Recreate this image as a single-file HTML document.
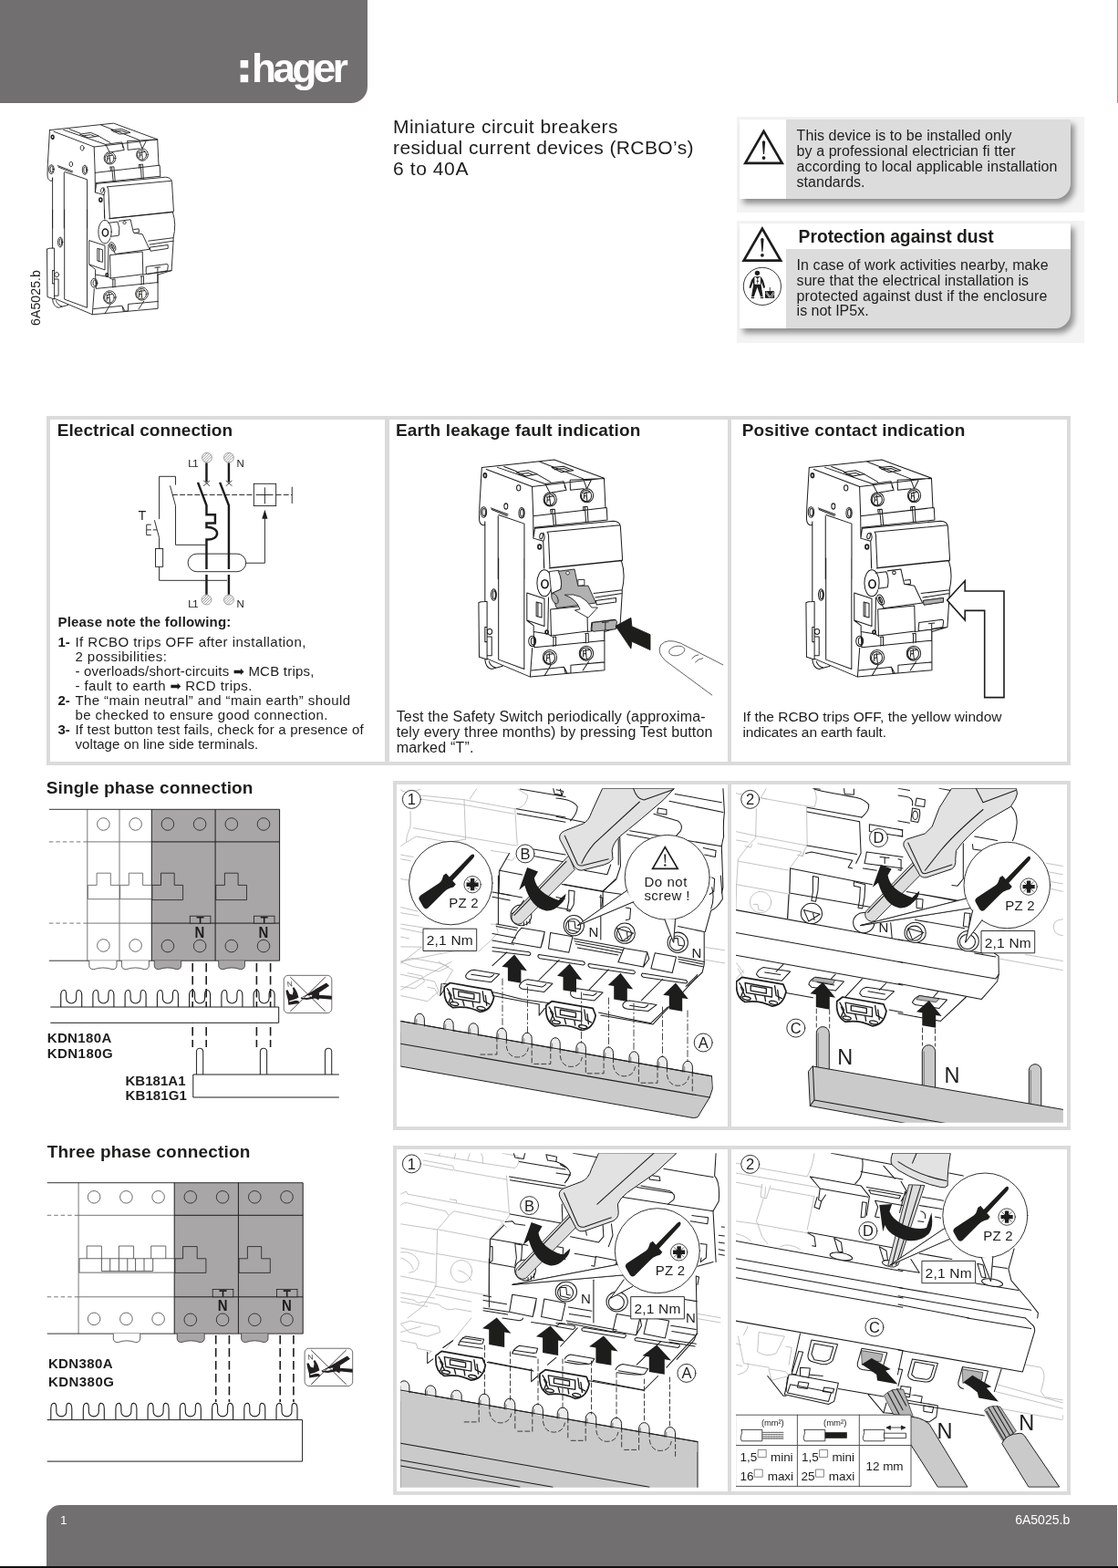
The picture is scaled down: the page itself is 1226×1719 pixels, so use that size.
<!DOCTYPE html>
<html lang="en">
<head>
<meta charset="utf-8">
<title>hager – Miniature circuit breakers residual current devices (RCBO’s)</title>
<style>
html,body{margin:0;padding:0;background:#fff;}
body{width:1226px;height:1719px;overflow:hidden;font-family:"Liberation Sans",sans-serif;color:#1d1d1b;}
#page{will-change:transform;position:relative;width:1226px;height:1719px;overflow:hidden;background:#fff;}
#art{position:absolute;left:0;top:0;}
.t{position:absolute;white-space:pre;}
.abs{position:absolute;}
#hdr{left:0;top:0;width:403px;height:113px;background:#716f70;border-bottom-right-radius:18px;}
#redline{left:1224.7px;top:0;width:1.3px;height:112.5px;background:#cf727c;}
#ftr{left:51.4px;top:1650px;width:1173.2px;height:69px;background:#716f70;border-top-left-radius:15px;}
#ftline{left:0;top:1717px;width:1226px;height:2px;background:#111;}
.warnbg{background:#f3f3f3;}
.card{background:#dcdcdc;border-bottom-right-radius:17px;box-shadow:4px 5px 6px rgba(0,0,0,.42);overflow:hidden;}
.card .wl{position:absolute;left:0;top:0;bottom:0;width:51px;background:#fff;}
.card .wt{position:absolute;left:51px;top:0;right:0;height:28px;background:#fff;}
.frame{border:4px solid #dbdbdb;box-sizing:border-box;}
.vsep{background:#dbdbdb;}
.ar{font-family:"DejaVu Sans",sans-serif;font-size:14.5px;line-height:0;letter-spacing:0;}

</style>
</head>
<body>
<div id="page">
<div id="hdr" class="abs"></div>
<div id="redline" class="abs"></div>
<div class="abs warnbg" style="left:807.5px;top:127.5px;width:381.5px;height:105px"></div>
<div class="abs card" style="left:811px;top:131px;width:363px;height:87px"><div class="wl"></div></div>
<div class="abs warnbg" style="left:807.5px;top:242px;width:381.5px;height:134px"></div>
<div class="abs card" style="left:811px;top:245px;width:363px;height:114.5px"><div class="wl"></div><div class="wt"></div></div>
<div class="abs frame" style="left:51px;top:456px;width:1123px;height:383px"></div>
<div class="abs vsep" style="left:422px;top:456px;width:5px;height:383px"></div>
<div class="abs vsep" style="left:798px;top:456px;width:4px;height:383px"></div>
<div class="abs frame" style="left:431px;top:856px;width:743px;height:383px"></div>
<div class="abs vsep" style="left:798px;top:856px;width:4px;height:383px"></div>
<div class="abs frame" style="left:431px;top:1256px;width:743px;height:383px"></div>
<div class="abs vsep" style="left:798px;top:1256px;width:4px;height:383px"></div>
<div id="ftr" class="abs"></div>
<div id="ftline" class="abs"></div>

<svg id="art" width="1226" height="1719" viewBox="0 0 1226 1719">
<!-- 00_logo.svg -->
<rect x="263.6" y="66" width="8.6" height="8.4" fill="#fff"/><rect x="263.6" y="81.8" width="8.6" height="8.4" fill="#fff"/>

<!-- 10_wiring.svg -->
<g transform="translate(140,490) scale(0.16313)" fill="none" stroke="#1d1d1b" stroke-width="5.6" stroke-linecap="butt">
  <defs>
    <g id="term">
      <circle r="33" fill="#fff" stroke="#555" stroke-width="3.5"/>
      <path d="M-26,14 L14,-26 M-18,24 L24,-18 M-6,30 L30,-6 M-30,0 L0,-30" stroke="#666" stroke-width="4"/>
    </g>
  </defs>
  <use href="#term" x="533" y="72"/><use href="#term" x="680" y="72"/>
  <use href="#term" x="530" y="1027"/><use href="#term" x="680" y="1027"/>
  <g stroke-width="15">
    <path d="M530,108 V236 M680,108 V236"/>
    <path d="M472,238 L530,392 V455 H588 V512 H530 V540 C625,535 625,628 530,622 V822 M530,858 V992" stroke-linejoin="miter"/>
    <path d="M620,238 L680,392 V822 M680,858 V992"/>
  </g>
  <path d="M510,226 L552,262 M552,226 L510,262 M660,226 L702,262 M702,226 L660,262" stroke-width="5"/>
  <path d="M300,322 H848 M997,322 H1105" stroke-dasharray="36 14"/>
  <path d="M1105,268 V380"/>
  <rect x="848" y="247" width="149" height="149"/>
  <path d="M922,272 V382 M862,322 H978"/>
  <rect x="405" y="718" width="390" height="120" rx="60" ry="60"/>
  <path d="M795,780 H922 V470"/>
  <path d="M922,422 L941,482 H903 Z" fill="#1d1d1b" stroke="none"/>
  <path d="M322,255 V198 H212 V485 M180,492 L212,610 V683 M212,805 V897 H668"/>
  <rect x="187" y="683" width="50" height="122"/>
  <path d="M285,260 L322,395 V658 H525"/>
  <path d="M127,522 V592 M127,522 H158 M127,557 H158 M127,592 H158 M170,557 H196"/>
  <g fill="#1d1d1b" stroke="none" font-family="Liberation Sans, sans-serif" font-size="70">
    <text x="406" y="133" textLength="70">L1</text>
    <text x="733" y="133">N</text>
    <text x="406" y="1078" textLength="70">L1</text>
    <text x="733" y="1078">N</text>
    <text x="70" y="488" font-size="88">T</text>
  </g>
</g>

<!-- 20_phase.svg -->
<g id="single" fill="none" stroke="#1d1d1b" stroke-width="0.8"><rect x="166.3" y="887.3" width="140.4" height="165.9" fill="#a8a6a7" stroke="none"/><path d="M95.8,887.3 V1053.2 M131.0,887.3 V1053.2 M95.8,922.9 H166.3 M95.8,1012.1 H166.3" stroke="#777" stroke-width="1"/><path d="M53.8,887.3 H306.6 M53.8,1053.2 H306.6" stroke-width="0.9"/><path d="M53.8,922.9 H95.8 M53.8,1012.1 H95.8" stroke-dasharray="4.5 3" stroke="#555"/><path d="M166.3,887.3 V1053.2 M236.1,887.3 V1053.2 M306.6,887.3 V1053.2 M166.3,922.9 H306.6 M166.3,1012.1 H306.6" stroke-width="1"/><circle cx="113.4" cy="903.5" r="6.8" stroke="#444"/><circle cx="113.4" cy="1036.5" r="6.8" stroke="#444"/><circle cx="148.6" cy="903.5" r="6.8" stroke="#444"/><circle cx="148.6" cy="1036.5" r="6.8" stroke="#444"/><circle cx="183.9" cy="903.5" r="6.8"/><circle cx="183.9" cy="1037.1" r="6.8"/><circle cx="219.1" cy="903.5" r="6.8"/><circle cx="219.1" cy="1037.1" r="6.8"/><circle cx="253.8" cy="903.5" r="6.8"/><circle cx="253.8" cy="1037.1" r="6.8"/><circle cx="289.0" cy="903.5" r="6.8"/><circle cx="289.0" cy="1037.1" r="6.8"/><path d="M96.4,970.4 H106.1 V957.2 H121.3 V970.4 H131.0 V985.7 H96.4 Z M131.6,970.4 H141.3 V957.2 H156.6 V970.4 H166.3 V985.7 H131.6 Z" stroke="#555" fill="#fff"/><path d="M166.8,970.4 H176.5 V957.2 H191.2 V970.4 H200.6 V986.6 H166.8 Z M236.7,970.4 H246.4 V957.2 H261.1 V970.4 H270.5 V986.6 H236.7 Z"/><rect x="208.3" y="1004.2" width="22.6" height="7.9" fill="#a8a6a7"/><path d="M215.6,1005.7 H223.6 M219.6,1005.7 V1012.1" stroke-width="1.6"/><rect x="278.4" y="1004.2" width="22.6" height="7.9" fill="#a8a6a7"/><path d="M285.7,1005.7 H293.7 M289.7,1005.7 V1012.1" stroke-width="1.6"/><path d="M97.8,1053.2 v5 q0,4.5 5,4.5 q10.1,-3.5 20.2,0 q5,0 5,-4.5 v-5" fill="#fff" stroke="#1d1d1b" stroke-width="0.7"/><path d="M133.4,1053.2 v5 q0,4.5 5,4.5 q10.0,-3.5 20.0,0 q5,0 5,-4.5 v-5" fill="#fff" stroke="#1d1d1b" stroke-width="0.7"/><path d="M169.2,1053.2 v5 q0,4.5 5,4.5 q9.7,-3.5 19.4,0 q5,0 5,-4.5 v-5" fill="#a8a6a7" stroke="#1d1d1b" stroke-width="0.7"/><path d="M239.7,1053.2 v5 q0,4.5 5,4.5 q9.4,-3.5 18.8,0 q5,0 5,-4.5 v-5" fill="#a8a6a7" stroke="#1d1d1b" stroke-width="0.7"/></g>
<g id="single2" fill="none" stroke="#1d1d1b" stroke-width="1.1"><path d="M66.7,1104.0 V1091.5 Q66.7,1085.5 70.2,1085.5 Q72.7,1085.5 72.7,1090.5 V1094.5 A5.5,5.5 0 0 0 83.7,1094.5 V1090.5 Q83.7,1085.5 86.2,1085.5 Q89.7,1085.5 89.7,1091.5 V1104.0" fill="#fff" stroke="#1d1d1b" stroke-width="1.1"/><path d="M101.9,1104.0 V1091.5 Q101.9,1085.5 105.4,1085.5 Q107.9,1085.5 107.9,1090.5 V1094.5 A5.5,5.5 0 0 0 118.9,1094.5 V1090.5 Q118.9,1085.5 121.4,1085.5 Q124.9,1085.5 124.9,1091.5 V1104.0" fill="#fff" stroke="#1d1d1b" stroke-width="1.1"/><path d="M137.1,1104.0 V1091.5 Q137.1,1085.5 140.6,1085.5 Q143.1,1085.5 143.1,1090.5 V1094.5 A5.5,5.5 0 0 0 154.1,1094.5 V1090.5 Q154.1,1085.5 156.6,1085.5 Q160.1,1085.5 160.1,1091.5 V1104.0" fill="#fff" stroke="#1d1d1b" stroke-width="1.1"/><path d="M172.4,1104.0 V1091.5 Q172.4,1085.5 175.9,1085.5 Q178.4,1085.5 178.4,1090.5 V1094.5 A5.5,5.5 0 0 0 189.4,1094.5 V1090.5 Q189.4,1085.5 191.9,1085.5 Q195.4,1085.5 195.4,1091.5 V1104.0" fill="#fff" stroke="#1d1d1b" stroke-width="1.1"/><path d="M207.6,1104.0 V1091.5 Q207.6,1085.5 211.1,1085.5 Q213.6,1085.5 213.6,1090.5 V1094.5 A5.5,5.5 0 0 0 224.6,1094.5 V1090.5 Q224.6,1085.5 227.1,1085.5 Q230.6,1085.5 230.6,1091.5 V1104.0" fill="#fff" stroke="#1d1d1b" stroke-width="1.1"/><path d="M242.9,1104.0 V1091.5 Q242.9,1085.5 246.4,1085.5 Q248.9,1085.5 248.9,1090.5 V1094.5 A5.5,5.5 0 0 0 259.9,1094.5 V1090.5 Q259.9,1085.5 262.4,1085.5 Q265.9,1085.5 265.9,1091.5 V1104.0" fill="#fff" stroke="#1d1d1b" stroke-width="1.1"/><path d="M278.1,1104.0 V1091.5 Q278.1,1085.5 281.6,1085.5 Q284.1,1085.5 284.1,1090.5 V1094.5 A5.5,5.5 0 0 0 295.1,1094.5 V1090.5 Q295.1,1085.5 297.6,1085.5 Q301.1,1085.5 301.1,1091.5 V1104.0" fill="#fff" stroke="#1d1d1b" stroke-width="1.1"/><path d="M211.2,1056.1 V1148.1" stroke-width="1.6" stroke-dasharray="9.5 4.5"/><path d="M226.2,1056.1 V1148.1" stroke-width="1.6" stroke-dasharray="9.5 4.5"/><path d="M281.4,1056.1 V1148.1" stroke-width="1.6" stroke-dasharray="9.5 4.5"/><path d="M296.6,1056.1 V1148.1" stroke-width="1.6" stroke-dasharray="9.5 4.5"/><path d="M55.3,1104.0 H305.7 V1121.3 H55.3" fill="#fff" stroke-width="1"/><path d="M215.5,1178.0 V1152.8 a3.6,3.6 0 0 1 7.2,0 V1178.0" fill="#fff" stroke="#333"/><path d="M285.4,1178.0 V1152.8 a3.6,3.6 0 0 1 7.2,0 V1178.0" fill="#fff" stroke="#333"/><path d="M356.5,1178.0 V1152.8 a3.6,3.6 0 0 1 7.2,0 V1178.0" fill="#fff" stroke="#333"/><path d="M371.8,1178.0 H211.8 V1203.0 H371.8" stroke-width="1"/></g>
<g id="three" fill="none" stroke="#1d1d1b" stroke-width="0.8"><rect x="191.2" y="1296.7" width="140.9" height="165.3" fill="#a8a6a7" stroke="none"/><path d="M86.1,1296.7 V1462.1 M86.1,1332.3 H191.2 M86.1,1421.8 H191.2" stroke="#777" stroke-width="1"/><path d="M51.7,1296.7 H332.2 M51.7,1462.1 H332.2" stroke-width="0.9"/><path d="M51.7,1332.3 H86.1 M51.7,1421.8 H86.1" stroke-dasharray="4.5 3" stroke="#555"/><path d="M191.2,1296.7 V1462.1 M261.4,1296.7 V1462.1 M332.2,1296.7 V1462.1 M191.2,1332.3 H332.2 M191.2,1421.8 H332.2" stroke-width="1"/><circle cx="103.1" cy="1312.3" r="6.8" stroke="#444"/><circle cx="103.1" cy="1445.9" r="6.8" stroke="#444"/><circle cx="138.4" cy="1312.3" r="6.8" stroke="#444"/><circle cx="138.4" cy="1445.9" r="6.8" stroke="#444"/><circle cx="173.6" cy="1312.3" r="6.8" stroke="#444"/><circle cx="173.6" cy="1445.9" r="6.8" stroke="#444"/><circle cx="208.8" cy="1312.3" r="6.8"/><circle cx="208.8" cy="1446.8" r="6.8"/><circle cx="244.1" cy="1312.3" r="6.8"/><circle cx="244.1" cy="1446.8" r="6.8"/><circle cx="279.3" cy="1312.3" r="6.8"/><circle cx="279.3" cy="1446.8" r="6.8"/><circle cx="314.5" cy="1312.3" r="6.8"/><circle cx="314.5" cy="1446.8" r="6.8"/><rect x="87.0" y="1379.8" width="104.2" height="15.3" stroke="#444" fill="#fff"/><path d="M95.2,1379.8 V1366.0 H111.4 V1379.8" stroke="#444"/><path d="M130.4,1379.8 V1366.0 H146.6 V1379.8" stroke="#444"/><path d="M165.7,1379.8 V1366.0 H181.8 V1379.8" stroke="#444"/><path d="M111.4,1379.8 V1393.6 H167.7 V1379.8 M120.7,1379.8 V1393.6 M130.4,1379.8 V1393.6 M139.8,1379.8 V1393.6 M148.6,1379.8 V1393.6 M158.0,1379.8 V1393.6" stroke="#333"/><path d="M191.8,1379.8 H200.6 V1366.6 H216.2 V1379.8 H225.9 V1395.4 H191.8 Z M262.0,1379.8 H271.4 V1366.6 H286.7 V1379.8 H296.3 V1395.4 H262.0 Z"/><rect x="233.2" y="1413.6" width="22.6" height="8.2" fill="#a8a6a7"/><path d="M240.5,1415.1 H248.5 M244.5,1415.1 V1421.8" stroke-width="1.6"/><rect x="303.4" y="1413.6" width="22.6" height="8.2" fill="#a8a6a7"/><path d="M310.7,1415.1 H318.7 M314.7,1415.1 V1421.8" stroke-width="1.6"/><path d="M124.3,1462.1 v5 q0,4.5 5,4.5 q9.7,-3.5 19.4,0 q5,0 5,-4.5 v-5" fill="#fff" stroke="#1d1d1b" stroke-width="0.7"/><path d="M194.2,1462.1 v5 q0,4.5 5,4.5 q10.0,-3.5 20.0,0 q5,0 5,-4.5 v-5" fill="#a8a6a7" stroke="#1d1d1b" stroke-width="0.7"/><path d="M264.6,1462.1 v5 q0,4.5 5,4.5 q9.7,-3.5 19.4,0 q5,0 5,-4.5 v-5" fill="#a8a6a7" stroke="#1d1d1b" stroke-width="0.7"/></g>
<g id="three2" fill="none" stroke="#1d1d1b" stroke-width="1.1"><path d="M55.8,1556.6 V1544.4 Q55.8,1538.4 59.3,1538.4 Q61.8,1538.4 61.8,1543.4 V1547.4 A5.5,5.5 0 0 0 72.8,1547.4 V1543.4 Q72.8,1538.4 75.3,1538.4 Q78.8,1538.4 78.8,1544.4 V1556.6" fill="#fff" stroke="#1d1d1b" stroke-width="1.1"/><path d="M91.3,1556.6 V1544.4 Q91.3,1538.4 94.8,1538.4 Q97.3,1538.4 97.3,1543.4 V1547.4 A5.5,5.5 0 0 0 108.3,1547.4 V1543.4 Q108.3,1538.4 110.8,1538.4 Q114.3,1538.4 114.3,1544.4 V1556.6" fill="#fff" stroke="#1d1d1b" stroke-width="1.1"/><path d="M126.9,1556.6 V1544.4 Q126.9,1538.4 130.4,1538.4 Q132.9,1538.4 132.9,1543.4 V1547.4 A5.5,5.5 0 0 0 143.9,1547.4 V1543.4 Q143.9,1538.4 146.4,1538.4 Q149.9,1538.4 149.9,1544.4 V1556.6" fill="#fff" stroke="#1d1d1b" stroke-width="1.1"/><path d="M162.1,1556.6 V1544.4 Q162.1,1538.4 165.6,1538.4 Q168.1,1538.4 168.1,1543.4 V1547.4 A5.5,5.5 0 0 0 179.1,1547.4 V1543.4 Q179.1,1538.4 181.6,1538.4 Q185.1,1538.4 185.1,1544.4 V1556.6" fill="#fff" stroke="#1d1d1b" stroke-width="1.1"/><path d="M197.3,1556.6 V1544.4 Q197.3,1538.4 200.8,1538.4 Q203.3,1538.4 203.3,1543.4 V1547.4 A5.5,5.5 0 0 0 214.3,1547.4 V1543.4 Q214.3,1538.4 216.8,1538.4 Q220.3,1538.4 220.3,1544.4 V1556.6" fill="#fff" stroke="#1d1d1b" stroke-width="1.1"/><path d="M232.6,1556.6 V1544.4 Q232.6,1538.4 236.1,1538.4 Q238.6,1538.4 238.6,1543.4 V1547.4 A5.5,5.5 0 0 0 249.6,1547.4 V1543.4 Q249.6,1538.4 252.1,1538.4 Q255.6,1538.4 255.6,1544.4 V1556.6" fill="#fff" stroke="#1d1d1b" stroke-width="1.1"/><path d="M267.8,1556.6 V1544.4 Q267.8,1538.4 271.3,1538.4 Q273.8,1538.4 273.8,1543.4 V1547.4 A5.5,5.5 0 0 0 284.8,1547.4 V1543.4 Q284.8,1538.4 287.3,1538.4 Q290.8,1538.4 290.8,1544.4 V1556.6" fill="#fff" stroke="#1d1d1b" stroke-width="1.1"/><path d="M303.0,1556.6 V1544.4 Q303.0,1538.4 306.5,1538.4 Q309.0,1538.4 309.0,1543.4 V1547.4 A5.5,5.5 0 0 0 320.0,1547.4 V1543.4 Q320.0,1538.4 322.5,1538.4 Q326.0,1538.4 326.0,1544.4 V1556.6" fill="#fff" stroke="#1d1d1b" stroke-width="1.1"/><path d="M51.7,1556.6 H331.6 V1602.1 H51.7" fill="#fff" stroke-width="1"/><path d="M236.7,1464.1 V1536.9" stroke-width="1.6" stroke-dasharray="9.5 4.5"/><path d="M251.4,1464.1 V1536.9" stroke-width="1.6" stroke-dasharray="9.5 4.5"/><path d="M307.2,1464.1 V1536.9" stroke-width="1.6" stroke-dasharray="9.5 4.5"/><path d="M321.9,1464.1 V1536.9" stroke-width="1.6" stroke-dasharray="9.5 4.5"/></g>
<g font-family="Liberation Sans, sans-serif" font-weight="700" font-size="16.5" fill="#1d1d1b"><text x="218.8" y="1027.8" text-anchor="middle" textLength="10.8" lengthAdjust="spacingAndGlyphs">N</text><text x="288.8" y="1027.8" text-anchor="middle" textLength="10.8" lengthAdjust="spacingAndGlyphs">N</text><text x="244.1" y="1436.5" text-anchor="middle" textLength="10.8" lengthAdjust="spacingAndGlyphs">N</text><text x="314.3" y="1436.5" text-anchor="middle" textLength="10.8" lengthAdjust="spacingAndGlyphs">N</text></g>
<!-- 30_icons.svg -->
<defs>
  <g id="warntri">
    <path d="M0,-17.6 L20.2,17.4 H-20.2 Z" fill="#fff" stroke="#1d1d1b" stroke-width="2.7" stroke-linejoin="miter"/>
    <path d="M-1.7,-6.2 Q0,-8.2 1.7,-6.2 L0.6,7.6 H-0.6 Z" fill="#1d1d1b"/>
    <circle cx="0" cy="11.6" r="1.9" fill="#1d1d1b"/>
  </g>
  <g id="nopliers" transform="scale(0.06525)">
    <rect x="172" y="143" width="806" height="632" rx="72" ry="72" fill="#fff" stroke="#333" stroke-width="11"/>
    <path d="M205,395 L238,388 L272,455 L318,468 L332,405 L318,350 L348,343 L392,420 L422,512 L335,556 L420,572 L432,612 L250,638 L244,560 L222,480 Z" fill="#231f20"/>
    <path d="M262,572 L420,530 L420,548 L270,590 Z" fill="#fff"/>
    <path d="M690,385 L888,268 L936,318 L765,432 Z M705,468 L978,488 L978,548 L705,524 Z M452,520 L560,462 L700,380 L770,440 L760,560 L700,530 L560,552 L470,540 Z" fill="#231f20"/>
    <path d="M470,520 L560,480 L650,470 L640,500 L560,520 Z" fill="#fff"/>
    <path d="M280,170 L870,750 M870,170 L280,750" stroke="#231f20" stroke-width="13" fill="none"/>
    <text x="228" y="335" font-family="Liberation Sans, sans-serif" font-size="125" fill="#444" transform="rotate(-8 260 300)">N</text>
  </g>
</defs>
<use href="#warntri" x="837.5" y="161.5"/>
<use href="#warntri" x="835.9" y="268.2"/>
<g id="dusticon">
  <circle cx="835.9" cy="313.9" r="20.6" fill="#fff" stroke="#222" stroke-width="0.9"/>
  <g transform="translate(806,240) scale(0.0582)" fill="#1d1d1b">
    <circle cx="420" cy="1020" r="46"/>
    <path d="M360,1085 H485 L530,1150 L565,1270 L560,1300 H535 L500,1190 L492,1240 L525,1460 H480 L420,1290 L360,1460 H310 L345,1240 L340,1190 L300,1300 H268 L272,1270 L310,1150 Z"/>
    <path d="M368,1095 H480 V1232 H368 Z" fill="#fff"/>
    <path d="M385,1090 H465 L425,1130 Z M418,1130 H432 V1215 H418 Z M405,1165 H445 V1180 H405 Z"/>
    <rect x="305" y="1472" width="58" height="24"/><rect x="478" y="1472" width="58" height="24"/>
    <rect x="566" y="1358" width="176" height="134"/>
    <path d="M580,1395 L650,1480 M590,1370 L665,1470 M730,1370 L660,1470 M738,1400 L690,1482" stroke="#fff" stroke-width="14" fill="none"/>
    <rect x="650" y="1288" width="14" height="75"/>
  </g>
</g>
<use href="#nopliers" x="300" y="1060"/>
<use href="#nopliers" x="322.9" y="1468.9"/>

<!-- 40_device.svg -->
<defs><g id="device" fill="none" stroke="#1d1d1b" stroke-width="0.9" stroke-linejoin="round" stroke-linecap="round">
<path d="M4.5,12.6L74.6,5.1L122.7,22.8L125.2,51.2L125.8,63.2L131.5,64.2Q137.9,64.5 138.5,69.5L140.4,101.1L139.4,102.6Q143.3,113.1 140.1,130.7L140.1,134.2L138.1,166.6L123.1,171.1L123.1,208.3L51.3,214.8L7.6,197.2L1.7,195.3L1.5,143.1L7.6,142.0L7.6,68.3L5.7,68.3Q2.2,67.6 2.0,61.9L2.3,50.6Z" fill="#fff" stroke="none"/>
<path d="M4.5,12.6L2.3,50.6L2.0,61.9Q2.2,67.6 5.7,68.3L7.4,68.0L7.6,64.7L7.6,120.0 M4.5,12.6L74.6,5.1L122.7,22.8L53.2,31.0L8.9,14.2 M53.2,31.0L54.2,59.4L54.4,80.9 M122.7,22.8L124.0,51.2L125.2,51.8L125.8,63.2 M54.2,59.4L125.0,51.2 M55.4,70.5L125.8,63.2 M19.7,12.4L65.8,28.4L70.5,37.3 M26.0,11.6L38.0,16.2M58.2,19.2L70.9,26.5 M60.7,7.0L102.5,23.4L106.0,33.1L110.0,25.0 M38.0,17.1L49.4,15.4L58.2,19.0L46.8,20.9Z M40.5,19.0L49.4,17.7L54.4,19.7 M72.1,12.6L83.5,11.4L93.0,15.4L81.6,17.1Z M74.6,14.5L83.5,13.4L89.2,15.7 M65.8,28.4L83.5,25.9L86.3,34.4L72.4,36.7 M89.8,24.7L90.1,34.4L102.7,32.9 M89.8,24.7L122.4,23.0 M84.1,27.2L85.0,32.2 M70.9,53.1L74.9,52.8L76.2,68.3M72.7,53.7L74.1,68.3M70.9,53.1L71.4,56.9 M102.5,50.6L106.5,50.1L107.3,65.5M104.2,50.6L105.2,65.5M102.5,50.6L102.8,54.4 M55.7,71.4L131.5,64.2Q137.9,64.5 138.5,69.5L140.4,101.1Q140.6,102.7 139.1,102.7 M67.7,74.8L137.9,68.3 M55.7,71.4L54.4,80.9L63.9,83.7 M67.7,74.8Q69.3,76.5 69.1,82.2L70.3,109.0 M70.3,109.5L139.9,102.1 M63.9,83.7Q66.4,79.6 63.9,75.6 M63.9,83.7L64.8,110.0 M20.3,59.4L20.3,120.0M20.9,58.4L45.6,66.8L45.6,120.0 M13.3,51.6L29.8,57.9M14.0,53.1L29.1,59.2 M42.0,32.2C42.0,33.8 41.2,35.0 40.1,35.0C39.1,35.0 38.2,33.8 38.2,32.2C38.2,30.7 39.1,29.5 40.1,29.5C41.2,29.5 42.0,30.7 42.0,32.2Z M29.6,49.9C29.6,51.5 28.8,52.7 27.9,52.7C26.9,52.7 26.1,51.5 26.1,49.9C26.1,48.4 26.9,47.2 27.9,47.2C28.8,47.2 29.6,48.4 29.6,49.9Z M9.2,55.6C9.2,58.4 7.9,60.7 6.4,60.7C4.8,60.7 3.6,58.4 3.6,55.6C3.6,52.8 4.8,50.6 6.4,50.6C7.9,50.6 9.2,52.8 9.2,55.6Z M8.1,55.6C8.1,57.6 7.5,59.2 6.6,59.2C5.8,59.2 5.1,57.6 5.1,55.6C5.1,53.7 5.8,52.1 6.6,52.1C7.5,52.1 8.1,53.7 8.1,55.6Z M45.8,56.3C45.8,59.1 44.6,61.3 43.0,61.3C41.5,61.3 40.3,59.1 40.3,56.3C40.3,53.5 41.5,51.2 43.0,51.2C44.6,51.2 45.8,53.5 45.8,56.3Z M44.8,56.3C44.8,58.2 44.1,59.8 43.3,59.8C42.5,59.8 41.8,58.2 41.8,56.3C41.8,54.3 42.5,52.7 43.3,52.7C44.1,52.7 44.8,54.3 44.8,56.3Z M63.5,78.9C63.2,80.4 62.3,81.5 61.5,81.4C60.7,81.2 60.2,79.9 60.5,78.4C60.8,76.9 61.7,75.8 62.5,75.9C63.3,76.0 63.8,77.4 63.5,78.9Z M76.8,43.4C76.8,47.0 74.0,50.0 70.5,50.0C67.0,50.0 64.2,47.0 64.2,43.4C64.2,39.7 67.0,36.7 70.5,36.7C74.0,36.7 76.8,39.7 76.8,43.4Z M75.0,43.6C75.0,46.6 72.8,49.0 70.1,49.0C67.4,49.0 65.2,46.6 65.2,43.6C65.2,40.6 67.4,38.2 70.1,38.2C72.8,38.2 75.0,40.6 75.0,43.6Z M67.3,41.2L73.3,40.2M69.8,39.6L70.8,48.1M67.6,44.0L69.8,43.7M67.9,41.2L67.6,46.5 M112.3,39.6C112.3,43.2 109.5,46.2 106.0,46.2C102.5,46.2 99.7,43.2 99.7,39.6C99.7,35.9 102.5,32.9 106.0,32.9C109.5,32.9 112.3,35.9 112.3,39.6Z M110.5,39.8C110.5,42.8 108.3,45.2 105.6,45.2C102.9,45.2 100.7,42.8 100.7,39.8C100.7,36.9 102.9,34.5 105.6,34.5C108.3,34.5 110.5,36.9 110.5,39.8Z M102.8,37.4L108.8,36.4M105.4,35.8L106.3,44.3M103.2,40.2L105.4,39.9M103.5,37.4L103.2,42.7 M7.6,100.0L7.6,142.0 M1.5,143.1Q3.1,141.8 9.6,142.0L9.6,197.2 M1.5,143.1L2.0,195.5L9.6,197.9 M7.6,166.6L9.6,166.6M7.6,180.9L9.6,180.9M7.6,166.6L7.6,180.9 M9.6,176.0L14.1,176.0L14.1,194.2L9.6,194.2 M9.6,197.2L51.3,214.8 M7.6,198.1Q8.3,206.0 14.1,207.3L24.6,204.4 M11.5,199.8Q12.8,204.4 18.1,206.0 M20.7,100.0L20.7,198.1L45.5,207.3L45.5,100.0 M48.1,133.7L65.0,139.2L65.0,165.9L48.1,160.0Z M57.2,142.4L62.4,143.7L62.4,157.4L57.2,156.1ZM58.8,143.3L58.8,156.4 M64.4,100.0L64.6,109.1 M69.6,109.8L139.4,102.6Q143.7,115.7 140.1,130.7 M112.7,134.2L140.1,130.7L140.1,134.2 M114.2,138.1L140.1,134.2L138.1,166.6L123.1,171.1 M114.6,141.1L134.2,138.5L134.2,142.4L115.5,145.2Z M70.9,149.6L106.2,145.9L106.8,170.7L71.6,175.0Z M69.0,138.1L68.3,173.3L71.6,175.4 M106.8,171.1L138.1,166.6 M110.7,162.3L132.9,159.5Q134.3,159.5 134.3,161.3L133.6,166.8L111.6,170.5Q110.1,170.5 110.1,168.5Z M119.9,163.4L125.7,162.8M122.9,163.2L122.9,179.9 M54.6,171.1L55.3,186.4L123.1,179.6L123.1,171.1 M48.1,160.3L54.6,165.3L54.6,171.1L68.3,173.3 M53.3,186.8L51.3,214.8L123.1,208.3L123.1,179.6 M72.9,176.3L76.1,176.0L76.1,184.8M73.8,176.7L73.8,185.1 M104.2,173.1L107.5,172.7L107.5,181.6M105.1,173.1L105.1,182.0 M52.6,208.6L84.0,205.2L85.3,211.2L90.5,210.9L90.5,203.4L123.1,200.5 M65.0,213.8L71.2,203.4M102.2,208.6L107.7,200.2 M84.6,206.4L86.6,210.3 M18.7,135.5C18.7,138.5 17.5,141.0 16.1,141.0C14.7,141.0 13.5,138.5 13.5,135.5C13.5,132.5 14.7,130.0 16.1,130.0C17.5,130.0 18.7,132.5 18.7,135.5Z M17.7,135.5C17.7,137.7 17.1,139.4 16.4,139.4C15.6,139.4 15.1,137.7 15.1,135.5C15.1,133.3 15.6,131.6 16.4,131.6C17.1,131.6 17.7,133.3 17.7,135.5Z M72.2,124.1C72.2,131.2 69.0,136.9 65.0,136.9C61.1,136.9 57.9,131.2 57.9,124.1C57.9,117.1 61.1,111.4 65.0,111.4C69.0,111.4 72.2,117.1 72.2,124.1Z M56.8,180.3C56.8,183.0 55.2,185.2 53.3,185.2C51.4,185.2 49.8,183.0 49.8,180.3C49.8,177.5 51.4,175.3 53.3,175.3C55.2,175.3 56.8,177.5 56.8,180.3Z M55.8,180.3C55.8,182.1 55.0,183.7 53.9,183.7C52.9,183.7 52.1,182.1 52.1,180.3C52.1,178.4 52.9,176.9 53.9,176.9C55.0,176.9 55.8,178.4 55.8,180.3Z M14.5,171.1C14.5,172.6 13.5,173.7 12.2,173.7C10.9,173.7 9.8,172.6 9.8,171.1C9.8,169.7 10.9,168.5 12.2,168.5C13.5,168.5 14.5,169.7 14.5,171.1Z M77.0,195.9C77.0,199.9 74.0,203.0 70.3,203.0C66.5,203.0 63.5,199.9 63.5,195.9C63.5,192.0 66.5,188.8 70.3,188.8C74.0,188.8 77.0,192.0 77.0,195.9Z M75.2,196.2C75.2,199.4 72.8,202.0 69.9,202.0C66.9,202.0 64.6,199.4 64.6,196.2C64.6,193.0 66.9,190.4 69.9,190.4C72.8,190.4 75.2,193.0 75.2,196.2Z M66.9,193.5L73.3,192.5M69.6,191.8L70.6,201.0M67.2,196.6L69.6,196.3M67.5,193.5L67.2,199.3 M112.3,192.0C112.3,195.9 109.2,199.1 105.5,199.1C101.8,199.1 98.7,195.9 98.7,192.0C98.7,188.1 101.8,184.9 105.5,184.9C109.2,184.9 112.3,188.1 112.3,192.0Z M110.4,192.3C110.4,195.5 108.0,198.0 105.1,198.0C102.2,198.0 99.8,195.5 99.8,192.3C99.8,189.1 102.2,186.5 105.1,186.5C108.0,186.5 110.4,189.1 110.4,192.3Z M102.1,189.6L108.6,188.6M104.8,187.9L105.8,197.1M102.4,192.7L104.8,192.3M102.8,189.6L102.4,195.4"/>
<path d="M9.0,20.2C9.0,21.3 8.4,22.3 7.6,22.3C6.9,22.3 6.3,21.3 6.3,20.2C6.3,19.1 6.9,18.2 7.6,18.2C8.4,18.2 9.0,19.1 9.0,20.2Z M61.9,89.1C61.9,90.2 61.2,91.2 60.4,91.2C59.5,91.2 58.8,90.2 58.8,89.1C58.8,88.0 59.5,87.1 60.4,87.1C61.2,87.1 61.9,88.0 61.9,89.1Z M68.6,125.1C68.6,127.2 67.2,129.0 65.4,129.0C63.7,129.0 62.3,127.2 62.3,125.1C62.3,122.9 63.7,121.1 65.4,121.1C67.2,121.1 68.6,122.9 68.6,125.1Z M68.6,171.5C68.6,172.5 68.0,173.2 67.3,173.2C66.5,173.2 66.0,172.5 66.0,171.5C66.0,170.6 66.5,169.8 67.3,169.8C68.0,169.8 68.6,170.6 68.6,171.5Z" stroke-width="1.5"/>
</g>
<g id="handle" fill="none" stroke="#1d1d1b" stroke-width="0.9" stroke-linejoin="round"><path d="M80.0,112.4L93.1,110.7L96.4,125.1L106.2,126.8L114.0,143.3L76.4,148.5L72.0,137.2L71.2,129.4L80.3,128.1Z" fill="#fff" stroke="none"/><path d="M68.3,114.4L79.0,113.1Q82.0,119.6 80.3,128.1L71.2,129.4 M80.0,112.4L93.1,110.7L96.4,125.1L106.2,126.8L114.0,143.3L76.4,148.5L72.0,137.2 M96.4,121.5L102.2,120.9L102.5,124.8L97.3,125.6 M88.1,114.1C88.1,115.0 87.4,115.7 86.6,115.7C85.7,115.7 85.0,115.0 85.0,114.1C85.0,113.2 85.7,112.5 86.6,112.5C87.4,112.5 88.1,113.2 88.1,114.1Z M76.1,139.2C77.3,141.9 77.2,144.5 75.7,145.2C74.3,145.9 72.1,144.3 70.9,141.7C69.7,139.1 69.9,136.4 71.3,135.7C72.8,135.1 74.9,136.6 76.1,139.2Z M74.7,139.9C75.4,141.5 75.5,143.0 74.8,143.3C74.2,143.6 73.1,142.6 72.3,141.0C71.6,139.4 71.6,137.9 72.2,137.6C72.9,137.3 74.0,138.3 74.7,139.9Z"/></g>
</defs>
<g transform="translate(50.0,130.0)"><use href="#device"/><use href="#handle"/></g>
<g transform="translate(523.2,498.3) scale(1.135)"><use href="#device"/></g>
<g fill="none" stroke="#1d1d1b" stroke-width="0.9" stroke-linejoin="round">
<path d="M602.3,626.6L612.8,625.3Q616.9,635.6 615.0,646.0L604.7,650.7Z" fill="#fff"/>
<path d="M612.2,626.3L630.0,624.0L633.8,642.2L645.0,642.2L653.5,661.0L610.3,666.6L604.7,650.7L615.0,646.0Q616.9,635.6 612.2,626.3Z" fill="#b1b1b1"/>
<path d="M624.4,628.1C624.4,629.2 623.6,630.0 622.5,630.0C621.5,630.0 620.7,629.2 620.7,628.1C620.7,627.1 621.5,626.3 622.5,626.3C623.6,626.3 624.4,627.1 624.4,628.1Z M633.8,635.6L640.9,635.3L640.9,641.6L633.8,642.2Z" fill="#fff"/>
<path d="M611.2,655.0C612.6,658.0 612.5,661.0 611.0,661.7C609.5,662.4 607.1,660.6 605.7,657.6C604.3,654.5 604.4,651.5 605.9,650.8C607.4,650.1 609.8,652.0 611.2,655.0Z" fill="#b1b1b1"/>
<path d="M619.2,652.2Q638.5,649.2 648.8,666.0L655.4,666.0L645.0,677.3L630.4,669.0L636.0,667.9Q631.9,656.3 619.2,652.2Z" fill="#fff"/>
<path d="M649.7,682.5L675.1,679.7L676.6,681.6L675.1,689.7L650.7,692.3L648.8,690.0Z" fill="#b1b1b1"/>
<path d="M660.0,682.5L667.6,681.8M663.8,682.2L663.8,691.0"/>
<path d="M675.1,686.3L691.9,677.3L692.9,686.7L713.0,695.7L713.0,712.6L692.9,703.2L691.9,711.1Z" fill="#1d1d1b"/>
<path d="M793.2,729.1L746.3,705.1Q731.3,699.4 724.8,706.9Q719.7,714.8 729.5,724.2L781.1,762.3 M750.7,711.7C751.2,714.4 747.9,717.5 743.3,718.5C738.6,719.4 734.4,718.0 733.8,715.3C733.2,712.6 736.5,709.5 741.2,708.5C745.8,707.6 750.1,709.0 750.7,711.7Z M758.5,722.3Q761.4,718.2 766.4,717.8M762.3,726.4Q765.1,722.3 771.1,721.6" stroke-width="0.7"/>
</g>
<g transform="translate(882.2,498.3) scale(1.135)"><use href="#device"/><use href="#handle"/>
<path d="M114.6,141.1L134.2,138.5L134.2,142.4L115.5,145.2Z" fill="#b1b1b1" stroke="#1d1d1b" stroke-width="0.7"/></g>
<path d="M1038.6,658 L1058.2,636.8 V648 H1101 V764.6 H1079.7 V669.4 H1058.2 V679.8 Z" fill="#fff" stroke="#1d1d1b" stroke-width="1.6" stroke-linejoin="miter"/>
<!-- 51_pic1.svg -->
<clipPath id="cp_pic1"><rect x="439.3" y="864.3" width="356.2" height="366.5"/></clipPath>
<g id="pic1" clip-path="url(#cp_pic1)" stroke-linejoin="round" stroke-linecap="round">
<path fill="none" stroke="#b4b4b4" stroke-width="0.8" d="M439.3,865.8Q443.9,869.7 451.7,868.6L461.0,865.1"/>
<path fill="none" stroke="#b4b4b4" stroke-width="0.8" d="M461.0,872.0L509.0,876.7L564.8,886.8"/>
<path fill="none" stroke="#b4b4b4" stroke-width="0.8" d="M453.2,875.1L507.5,882.1L563.3,892.2"/>
<path fill="none" stroke="#b4b4b4" stroke-width="0.8" d="M509.0,876.7L510.6,920.1M564.8,886.8L567.2,926.3"/>
<path fill="none" stroke="#b4b4b4" stroke-width="0.8" d="M523.0,864.3L515.2,875.9"/>
<path fill="none" stroke="#b4b4b4" stroke-width="0.8" d="M567.9,865.1L578.8,872.0Q578.0,881.3 569.5,886.0L564.8,886.8"/>
<path fill="none" stroke="#b4b4b4" stroke-width="0.8" d="M450.1,889.1L450.1,906.1L446.3,916.2L445.5,923.2L439.3,927.8"/>
<path fill="none" stroke="#b4b4b4" stroke-width="0.8" d="M453.2,907.7L510.6,917.8L566.4,927.1"/>
<path fill="none" stroke="#b4b4b4" stroke-width="0.8" d="M446.3,923.2L456.3,917.0L492.0,923.2L510.6,920.1"/>
<path fill="none" stroke="#b4b4b4" stroke-width="0.8" d="M439.3,937.1L453.2,939.5M439.3,941.8L450.1,943.6"/>
<path fill="none" stroke="#b4b4b4" stroke-width="0.8" d="M538.5,932.5L558.6,935.6L554.0,941.8L561.7,943.3L564.8,939.5"/>
<path fill="none" stroke="#b4b4b4" stroke-width="0.8" d="M547.0,955.7L547.0,979.0"/>
<path fill="none" stroke="#b4b4b4" stroke-width="0.8" d="M439.3,963.5L449.4,965.3"/>
<path fill="none" stroke="#b4b4b4" stroke-width="0.8" d="M439.3,994.5L457.9,999.1M439.3,1000.7L459.4,1004.1"/>
<path fill="none" stroke="#b4b4b4" stroke-width="0.8" d="M439.3,1013.1L481.1,1019.6M439.3,1017.7L464.1,1022.7M439.3,1027.0L448.6,1028.9"/>
<path fill="none" stroke="#b4b4b4" stroke-width="0.8" d="M538.5,1013.1L543.9,1013.4L546.2,1022.4L538.5,1030.9L524.5,1043.3"/>
<path fill="none" stroke="#b4b4b4" stroke-width="0.8" d="M439.3,1037.9L462.5,1038.2L439.3,1056.5"/>
<path fill="none" stroke="#b4b4b4" stroke-width="0.8" d="M439.3,1054.3L516.8,1038.8"/>
<path fill="none" stroke="#b4b4b4" stroke-width="0.8" d="M439.3,1085.3L495.1,1054.3"/>
<path fill="none" stroke="#b4b4b4" stroke-width="0.8" d="M439.3,1054.3L451.7,1050.4L481.1,1055.8L492.0,1059.7L481.1,1065.1L465.6,1062.0L453.2,1059.7Z"/>
<path fill="none" stroke="#b4b4b4" stroke-width="0.8" d="M447.0,1066.7L462.5,1069.8L465.6,1076.0L454.8,1083.7L439.3,1081.4"/>
<path fill="none" stroke="#b4b4b4" stroke-width="0.8" d="M439.3,1068.2L476.5,1076.0L481.1,1086.8L468.7,1097.7L439.3,1091.5"/>
<path fill="none" stroke="#b4b4b4" stroke-width="0.8" d="M468.7,1082.2L476.5,1083.7L481.1,1091.5"/>
<path fill="none" stroke="#b4b4b4" stroke-width="0.8" d="M481.1,1054.3L496.6,1063.6L484.2,1083.7"/>
<path fill="none" stroke="#1d1d1b" stroke-width="1.05" d="M570.3,865.1L620.0,873.6"/>
<path fill="none" stroke="#1d1d1b" stroke-width="1.05" d="M606.7,864.3L608.2,870.5L616.0,872.0L614.4,865.1"/>
<path fill="none" stroke="#1d1d1b" stroke-width="1.05" d="M566.4,886.8L620.0,896.1M567.2,891.9L620.0,901.2"/>
<path fill="none" stroke="#1d1d1b" stroke-width="1.05" d="M585.0,930.9L620.0,937.1M586.5,938.7L620.0,945.2"/>
<path fill="none" stroke="#1d1d1b" stroke-width="1.05" d="M547.8,954.2L572.6,959.1M546.2,979.0L572.6,983.9"/>
<path fill="none" stroke="#1d1d1b" stroke-width="1.05" d="M547.8,954.2L547.0,979.0"/>
<path fill="none" stroke="#1d1d1b" stroke-width="1.05" d="M558.6,935.6L547.8,954.2"/>
<path fill="none" stroke="#1d1d1b" stroke-width="1.05" d="M610.0,870.5L616.2,872.0L617.7,867.4L610.0,865.8"/>
<path fill="none" stroke="#1d1d1b" stroke-width="1.05" d="M610.0,875.1Q628.6,876.7 633.2,884.4Q633.2,891.4 625.5,899.9"/>
<path fill="none" stroke="#1d1d1b" stroke-width="1.05" d="M610.0,895.3L641.0,901.5"/>
<path fill="none" stroke="#1d1d1b" stroke-width="1.05" d="M721.6,886.0L730.9,887.5L730.9,893.0L720.8,891.4Z"/>
<path fill="none" stroke="#1d1d1b" stroke-width="1.05" d="M740.2,870.5L791.3,879.8M734.0,878.2L792.9,890.6"/>
<path fill="none" stroke="#1d1d1b" stroke-width="1.05" d="M792.9,864.3L794.4,890.6Q792.9,901.5 793.6,917.0Q792.1,923.2 791.3,927.8L792.9,972.8L791.3,979.0"/>
<path fill="none" stroke="#1d1d1b" stroke-width="1.05" d="M716.9,892.2L743.3,899.9Q749.5,904.6 746.4,910.8L741.7,916.2"/>
<path fill="none" stroke="#1d1d1b" stroke-width="1.05" d="M690.6,910.8L791.3,927.8"/>
<path fill="none" stroke="#1d1d1b" stroke-width="1.05" d="M687.5,914.7L718.5,920.4"/>
<path fill="none" stroke="#1d1d1b" stroke-width="1.05" d="M771.2,929.4L785.1,932.5L784.3,939.5L772.7,937.1"/>
<path fill="none" stroke="#1d1d1b" stroke-width="1.05" d="M679.7,917.0L680.5,949.5L675.9,963.5M678.2,920.1L678.2,948.0"/>
<path fill="none" stroke="#1d1d1b" stroke-width="1.05" d="M669.7,948.0L665.8,958.8L641.0,954.2"/>
<path fill="none" stroke="#1d1d1b" stroke-width="1.05" d="M616.2,969.4L661.1,977.4L684.4,980.8M661.1,977.4L661.1,994.5M610.0,994.5L625.5,997.6"/>
<path fill="none" stroke="#1d1d1b" stroke-width="1.05" d="M661.1,977.4L675.1,963.5M610.0,983.6L619.3,985.5"/>
<path fill="none" stroke="#1d1d1b" stroke-width="1.05" d="M780.5,961.9L783.6,963.5L782.8,977.4L778.1,980.5"/>
<path fill="#fff" stroke="#1d1d1b" stroke-width="1.05" d="M640.5,1014.6C640.5,1020.8 635.5,1025.8 629.4,1025.8C623.2,1025.8 618.2,1020.8 618.2,1014.6C618.2,1008.5 623.2,1003.5 629.4,1003.5C635.5,1003.5 640.5,1008.5 640.5,1014.6Z"/>
<path fill="none" stroke="#1d1d1b" stroke-width="1.05" d="M636.7,1015.4C636.7,1019.8 633.0,1023.5 628.6,1023.5C624.1,1023.5 620.5,1019.8 620.5,1015.4C620.5,1011.0 624.1,1007.3 628.6,1007.3C633.0,1007.3 636.7,1011.0 636.7,1015.4Z"/>
<path fill="#fff" stroke="#1d1d1b" stroke-width="1.05" d="M696.3,1023.1C696.3,1029.3 691.3,1034.3 685.2,1034.3C679.0,1034.3 674.0,1029.3 674.0,1023.1C674.0,1017.0 679.0,1012.0 685.2,1012.0C691.3,1012.0 696.3,1017.0 696.3,1023.1Z"/>
<path fill="none" stroke="#1d1d1b" stroke-width="1.05" d="M692.4,1023.9C692.4,1028.4 688.8,1032.0 684.4,1032.0C679.9,1032.0 676.3,1028.4 676.3,1023.9C676.3,1019.5 679.9,1015.9 684.4,1015.9C688.8,1015.9 692.4,1019.5 692.4,1023.9Z"/>
<path fill="#fff" stroke="#1d1d1b" stroke-width="1.05" d="M754.4,1033.2C754.4,1039.4 749.4,1044.4 743.3,1044.4C737.1,1044.4 732.1,1039.4 732.1,1033.2C732.1,1027.1 737.1,1022.1 743.3,1022.1C749.4,1022.1 754.4,1027.1 754.4,1033.2Z"/>
<path fill="none" stroke="#1d1d1b" stroke-width="1.05" d="M750.6,1034.0C750.6,1038.4 747.0,1042.1 742.5,1042.1C738.1,1042.1 734.4,1038.4 734.4,1034.0C734.4,1029.5 738.1,1025.9 742.5,1025.9C747.0,1025.9 750.6,1029.5 750.6,1034.0Z"/>
<path fill="none" stroke="#1d1d1b" stroke-width="1.05" d="M623.9,1010.0L630.1,1010.0L630.9,1017.7L636.3,1018.5M623.2,1010.0L623.9,1019.3L633.2,1021.6M676.6,1017.7L694.5,1023.1L682.8,1031.7ZM687.5,1021.6L688.3,1029.3M737.1,1028.6L743.3,1028.6L744.1,1036.3L749.5,1037.1"/>
<path fill="none" stroke="#1d1d1b" stroke-width="1.05" d="M510.6,1069.8Q513.7,1063.6 519.9,1063.3L547.8,1067.9L538.5,1076.8L516.8,1073.7Q510.6,1073.7 510.6,1069.8Z"/>
<path fill="none" stroke="#1d1d1b" stroke-width="1.05" d="M516.8,1068.2L536.9,1071.3Q540.0,1070.6 541.6,1068.2"/>
<path fill="none" stroke="#1d1d1b" stroke-width="1.05" d="M569.5,1080.6Q572.6,1074.4 578.8,1073.7L605.9,1078.3L596.6,1087.6L575.7,1084.5Q569.5,1084.5 569.5,1080.6Z"/>
<path fill="none" stroke="#1d1d1b" stroke-width="1.05" d="M577.2,1079.1L594.3,1081.9Q597.4,1081.0 598.9,1078.8"/>
<path fill="none" stroke="#1d1d1b" stroke-width="1.05" d="M485.8,1078.3L544.7,1088.4L572.6,1095.4L620.0,1102.3"/>
<path fill="none" stroke="#1d1d1b" stroke-width="1.05" d="M484.2,1078.3L482.7,1091.5L488.9,1082.2"/>
<path fill="none" stroke="#1d1d1b" stroke-width="1.05" d="M591.2,1100.8L591.2,1113.2L597.4,1105.4"/>
<path fill="#fff" stroke="#1d1d1b" stroke-width="1.7" d="M487.3,1082.2L493.5,1077.5L538.5,1085.3L541.6,1093.0Q538.5,1108.5 526.1,1109.3Q512.1,1102.3 496.6,1104.7Q485.8,1099.2 487.3,1082.2Z"/>
<path fill="none" stroke="#1d1d1b" stroke-width="1.35" d="M496.6,1083.7L526.1,1089.2L526.1,1099.2L498.2,1094.6ZM502.8,1086.8L519.9,1089.9L519.9,1095.4L502.8,1092.3ZM492.0,1088.4L496.6,1097.7M532.3,1091.5L533.8,1102.3"/>
<path fill="none" stroke="#1d1d1b" stroke-width="1.35" d="M502.8,1101.3C502.6,1102.3 500.4,1102.8 497.9,1102.3C495.3,1101.9 493.4,1100.7 493.6,1099.7C493.8,1098.7 496.0,1098.2 498.5,1098.7C501.0,1099.1 502.9,1100.3 502.8,1101.3Z"/>
<path fill="none" stroke="#1d1d1b" stroke-width="1.35" d="M532.2,1106.2C532.0,1107.3 529.8,1107.7 527.3,1107.3C524.8,1106.8 522.9,1105.6 523.1,1104.6C523.2,1103.6 525.4,1103.2 528.0,1103.6C530.5,1104.1 532.4,1105.2 532.2,1106.2Z"/>
<path fill="none" stroke="#1d1d1b" stroke-width="1.35" d="M490.4,1083.7L495.1,1091.5L492.0,1099.2M529.2,1086.8L530.7,1097.7L536.9,1100.8M507.5,1096.9L509.0,1102.3M518.3,1098.5L519.1,1103.9"/>
<path fill="#fff" stroke="#1d1d1b" stroke-width="1.7" d="M598.9,1102.3L605.1,1097.7L650.1,1105.4L653.2,1113.2Q650.1,1128.7 637.7,1129.5Q623.7,1122.5 608.2,1124.8Q597.4,1119.4 598.9,1102.3Z"/>
<path fill="none" stroke="#1d1d1b" stroke-width="1.35" d="M608.2,1103.9L637.7,1109.3L637.7,1119.4L609.8,1114.7ZM614.4,1107.0L631.5,1110.1L631.5,1115.5L614.4,1112.4ZM603.6,1108.5L608.2,1117.8M643.9,1111.6L645.4,1122.5"/>
<path fill="none" stroke="#1d1d1b" stroke-width="1.35" d="M614.3,1121.4C614.2,1122.4 612.0,1122.9 609.4,1122.5C606.9,1122.0 605.0,1120.8 605.2,1119.8C605.4,1118.8 607.6,1118.4 610.1,1118.8C612.6,1119.2 614.5,1120.4 614.3,1121.4Z"/>
<path fill="none" stroke="#1d1d1b" stroke-width="1.35" d="M643.8,1126.4C643.6,1127.4 641.4,1127.9 638.9,1127.4C636.4,1127.0 634.5,1125.8 634.6,1124.8C634.8,1123.8 637.0,1123.3 639.5,1123.8C642.1,1124.2 644.0,1125.4 643.8,1126.4Z"/>
<path fill="none" stroke="#1d1d1b" stroke-width="1.35" d="M602.0,1103.9L606.7,1111.6L603.6,1119.4M640.8,1107.0L642.3,1117.8L648.5,1120.9M619.1,1117.1L620.6,1122.5M629.9,1118.6L630.7,1124.0"/>
<path fill="none" stroke="#1d1d1b" stroke-width="1.05" d="M625.5,1088.4Q627.0,1083.7 633.2,1083.7L661.1,1088.1L651.8,1096.9L631.7,1094.3Q625.5,1093.0 625.5,1088.4Z"/>
<path fill="none" stroke="#1d1d1b" stroke-width="1.05" d="M639.4,1089.9L650.3,1091.5Q652.6,1090.7 654.2,1088.7"/>
<path fill="none" stroke="#1d1d1b" stroke-width="1.05" d="M682.8,1101.6Q684.4,1096.9 690.6,1096.9L720.0,1101.6L710.7,1108.5L689.0,1106.2Q682.8,1105.8 682.8,1101.6Z"/>
<path fill="none" stroke="#1d1d1b" stroke-width="1.05" d="M690.6,1102.3L706.1,1104.7Q709.2,1103.9 710.7,1101.6"/>
<path fill="none" stroke="#1d1d1b" stroke-width="1.05" d="M656.5,1110.1L685.9,1116.3L713.8,1121.7L732.4,1103.9"/>
<path fill="none" stroke="#1d1d1b" stroke-width="1.05" d="M546.4,960.0L546.4,1013.0"/>
<path fill="none" stroke="#1d1d1b" stroke-width="1.05" d="M658.8,981.2L658.8,1030.0"/>
<path fill="none" stroke="#1d1d1b" stroke-width="1.05" d="M540.0,978.0L560.1,981.6M540.0,983.3L559.1,987.1"/>
<path fill="none" stroke="#1d1d1b" stroke-width="1.05" d="M618.5,969.5L660.9,977.0L675.7,964.2"/>
<path fill="none" stroke="#1d1d1b" stroke-width="1.05" d="M544.2,1013.0L567.6,1017.3M629.1,1028.9L684.2,1038.9M743.6,1049.1L772.2,1054.4"/>
<path fill="none" stroke="#1d1d1b" stroke-width="1.05" d="M544.2,1015.6L566.5,1019.8M630.1,1031.7L682.5,1041.4M744.0,1051.6L771.2,1056.9"/>
<path fill="none" stroke="#1d1d1b" stroke-width="1.05" d="M540.0,1023.6L565.5,1028.3M631.2,1034.7L681.0,1044.4M744.7,1054.6L770.8,1059.7"/>
<path fill="none" stroke="#1d1d1b" stroke-width="1.05" d="M540.0,1031.0L563.3,1035.3M633.3,1038.9L677.9,1047.0"/>
<path fill="none" stroke="#1d1d1b" stroke-width="1.05" d="M571.8,1017.3L597.3,1021.5L593.0,1038.9L561.2,1033.6L567.6,1021.9ZM597.3,1021.5L595.6,1030.0L593.0,1038.9"/>
<path fill="none" stroke="#1d1d1b" stroke-width="1.05" d="M603.6,1022.6L628.0,1026.8L623.8,1044.2L601.5,1040.0Z"/>
<path fill="none" stroke="#1d1d1b" stroke-width="1.05" d="M684.2,1039.5L709.7,1043.8L705.4,1060.1L677.9,1054.8ZM709.7,1043.8L711.8,1051.2L705.4,1060.1"/>
<path fill="none" stroke="#1d1d1b" stroke-width="1.05" d="M718.2,1044.8L741.5,1049.1L737.2,1066.5L713.9,1061.8Z"/>
<path fill="none" stroke="#1d1d1b" stroke-width="1.05" d="M540.0,1038.5L580.3,1043.8Q583.5,1045.9 580.3,1047.4L540.0,1042.7"/>
<path fill="none" stroke="#1d1d1b" stroke-width="1.05" d="M590.9,1046.5L639.7,1054.0Q642.9,1056.5 639.7,1058.0L592.0,1050.8Q588.4,1048.7 590.9,1046.5Z"/>
<path fill="none" stroke="#1d1d1b" stroke-width="1.05" d="M646.0,1056.5L694.8,1063.9Q698.0,1066.0 694.8,1067.7L647.1,1060.7Q643.5,1058.6 646.0,1056.5Z"/>
<path fill="none" stroke="#1d1d1b" stroke-width="1.05" d="M704.4,1067.1L752.1,1074.5Q755.3,1076.6 752.1,1078.1L705.4,1071.3Q701.8,1069.2 704.4,1067.1Z"/>
<path fill="none" stroke="#1d1d1b" stroke-width="1.05" d="M555.9,1043.8L540.0,1058.6M613.2,1052.3L590.9,1074.5M667.3,1062.9L646.0,1085.1M726.6,1073.5L703.3,1096.8M764.8,1068.6L752.1,1081.3"/>
<path fill="none" stroke="#1d1d1b" stroke-width="1.05" d="M743.6,1015.6L772.2,1021.5L772.2,1057.6L770.1,1066.0L754.2,1081.3"/>
<path fill="none" stroke="#1d1d1b" stroke-width="1.05" d="M779.7,996.1Q783.9,985.5 780.7,972.7M790.3,960.0L792.4,985.5Q786.0,996.1 779.7,998.2L773.3,1021.5"/>
<path fill="none" stroke="#1d1d1b" stroke-width="1.05" d="M623.8,975.9L630.1,977.0L629.1,991.8L624.8,999.2L621.7,998.2L623.8,987.6Z"/>
<path fill="none" stroke="#1d1d1b" stroke-width="1.05" d="M686.3,995.0L691.6,996.1L690.6,1007.7L686.3,1008.8"/>
<path fill="none" stroke="#1d1d1b" stroke-width="1.05" d="M657.7,983.3L660.9,984.4L659.8,993.9"/>
<path fill="none" stroke="#1d1d1b" stroke-width="1.05" d="M540.0,1091.5L590.9,1101.0M658.8,1113.1L716.0,1122.9L764.8,1070.7"/>
<path fill="none" stroke="#b4b4b4" stroke-width="0.8" d="M773.3,1038.5L794.5,1041.7M773.3,1052.3L794.5,1055.9"/>
<path fill="#cacaca" stroke="#1d1d1b" stroke-width="1" d="M439.3,1119.4L780.5,1179.8L781.3,1193.8L778.2,1203.1L765.0,1224.8L760.3,1225.6L439.3,1169.0Z"/>
<path fill="none" stroke="#1d1d1b" stroke-width="1.05" d="M439.3,1144.2L778.2,1203.1"/>
<path d="M454.9,1124.6 V1117.8 A5.2,6.5 0 0 1 465.4,1117.8 V1126.6" fill="#ececec" stroke="#1d1d1b" stroke-width="1"/><path d="M456.6,1124.6 V1117.8" fill="none" stroke="#9a9a9a" stroke-width="1.6"/>
<path d="M486.8,1130.2 V1123.5 A5.2,6.5 0 0 1 497.2,1123.5 V1132.2" fill="#ececec" stroke="#1d1d1b" stroke-width="1"/><path d="M488.4,1130.2 V1123.5" fill="none" stroke="#9a9a9a" stroke-width="1.6"/>
<path d="M513.9,1135.0 V1128.3 A5.2,6.5 0 0 1 524.4,1128.3 V1137.0" fill="#ececec" stroke="#1d1d1b" stroke-width="1"/><path d="M515.5,1135.0 V1128.3" fill="none" stroke="#9a9a9a" stroke-width="1.6"/>
<path d="M544.9,1140.5 V1133.8 A5.2,6.5 0 0 1 555.4,1133.8 V1142.5" fill="#ececec" stroke="#1d1d1b" stroke-width="1"/><path d="M546.5,1140.5 V1133.8" fill="none" stroke="#9a9a9a" stroke-width="1.6"/>
<path d="M572.8,1145.4 V1138.7 A5.2,6.5 0 0 1 583.2,1138.7 V1147.4" fill="#ececec" stroke="#1d1d1b" stroke-width="1"/><path d="M574.4,1145.4 V1138.7" fill="none" stroke="#9a9a9a" stroke-width="1.6"/>
<path d="M603.8,1150.9 V1144.2 A5.2,6.5 0 0 1 614.2,1144.2 V1152.9" fill="#ececec" stroke="#1d1d1b" stroke-width="1"/><path d="M605.4,1150.9 V1144.2" fill="none" stroke="#9a9a9a" stroke-width="1.6"/>
<path d="M631.9,1155.9 V1149.2 A5.2,6.5 0 0 1 642.4,1149.2 V1157.9" fill="#ececec" stroke="#1d1d1b" stroke-width="1"/><path d="M633.5,1155.9 V1149.2" fill="none" stroke="#9a9a9a" stroke-width="1.6"/>
<path d="M662.0,1161.3 V1154.5 A5.2,6.5 0 0 1 672.5,1154.5 V1163.3" fill="#ececec" stroke="#1d1d1b" stroke-width="1"/><path d="M663.6,1161.3 V1154.5" fill="none" stroke="#9a9a9a" stroke-width="1.6"/>
<path d="M690.0,1166.2 V1159.4 A5.2,6.5 0 0 1 700.5,1159.4 V1168.2" fill="#ececec" stroke="#1d1d1b" stroke-width="1"/><path d="M691.6,1166.2 V1159.4" fill="none" stroke="#9a9a9a" stroke-width="1.6"/>
<path d="M721.0,1171.7 V1164.9 A5.2,6.5 0 0 1 731.5,1164.9 V1173.7" fill="#ececec" stroke="#1d1d1b" stroke-width="1"/><path d="M722.6,1171.7 V1164.9" fill="none" stroke="#9a9a9a" stroke-width="1.6"/>
<path d="M748.9,1176.6 V1169.9 A5.2,6.5 0 0 1 759.4,1169.9 V1178.6" fill="#ececec" stroke="#1d1d1b" stroke-width="1"/><path d="M750.5,1176.6 V1169.9" fill="none" stroke="#9a9a9a" stroke-width="1.6"/>
<path fill="#cacaca" stroke="none" d="M439.3,1120.6L780.0,1181.0L780.6,1192.0L439.3,1132.0Z"/>
<path fill="none" stroke="#1d1d1b" stroke-width="1.05" d="M439.3,1119.4L780.5,1179.8"/>
<path fill="none" stroke="#2a2a2a" stroke-width="0.9" stroke-dasharray="5 3" d="M544.9,1137.0 V1156.0 h-18 M555.3,1139.0 V1147.0 q2,12 12,12 q10,0 12,-10"/>
<path fill="none" stroke="#2a2a2a" stroke-width="0.9" stroke-dasharray="5 3" d="M583.2,1143.9 V1164.9"/>
<path fill="none" stroke="#2a2a2a" stroke-width="0.9" stroke-dasharray="5 3" d="M603.8,1147.4 V1166.4 h-18 M614.2,1149.4 V1157.4 q2,12 12,12 q10,0 12,-10"/>
<path fill="none" stroke="#2a2a2a" stroke-width="0.9" stroke-dasharray="5 3" d="M642.3,1154.4 V1175.4"/>
<path fill="none" stroke="#2a2a2a" stroke-width="0.9" stroke-dasharray="5 3" d="M662.1,1157.8 V1176.8 h-18 M672.5,1159.8 V1167.8 q2,12 12,12 q10,0 12,-10"/>
<path fill="none" stroke="#2a2a2a" stroke-width="0.9" stroke-dasharray="5 3" d="M700.4,1164.7 V1185.7"/>
<path fill="none" stroke="#2a2a2a" stroke-width="0.9" stroke-dasharray="5 3" d="M721.0,1168.2 V1187.2 h-18 M731.4,1170.2 V1178.2 q2,12 12,12 q10,0 12,-10"/>
<path fill="none" stroke="#2a2a2a" stroke-width="0.9" stroke-dasharray="5 3" d="M759.3,1175.1 V1196.1"/>
<path fill="none" stroke="#333" stroke-width="0.9" stroke-dasharray="7 3 1.5 3" d="M551,1073 V1128"/>
<path fill="none" stroke="#333" stroke-width="0.9" stroke-dasharray="7 3 1.5 3" d="M578.5,1082 V1133"/>
<path fill="none" stroke="#333" stroke-width="0.9" stroke-dasharray="7 3 1.5 3" d="M637.5,1088 V1143"/>
<path fill="none" stroke="#333" stroke-width="0.9" stroke-dasharray="7 3 1.5 3" d="M667.5,1094 V1148"/>
<path fill="none" stroke="#333" stroke-width="0.9" stroke-dasharray="7 3 1.5 3" d="M695,1100 V1152"/>
<path fill="none" stroke="#333" stroke-width="0.9" stroke-dasharray="7 3 1.5 3" d="M726.5,1104 V1158"/>
<path fill="none" stroke="#333" stroke-width="0.9" stroke-dasharray="7 3 1.5 3" d="M754,1108 V1163"/>
<path fill="#1d1d1b" d="M564.1,1046.5 L577.9,1064.3 L571.4,1063.2 L571.4,1077.7 L556.9,1075.3 L556.9,1060.8 L550.4,1059.7 Z"/>
<path fill="#1d1d1b" d="M624.7,1056.6 L638.5,1074.4 L632.0,1073.3 L632.0,1087.8 L617.5,1085.4 L617.5,1070.9 L611.0,1069.8 Z"/>
<path fill="#1d1d1b" d="M680.5,1066.7 L694.2,1084.5 L687.8,1083.4 L687.8,1097.9 L673.2,1095.5 L673.2,1081.0 L666.8,1079.9 Z"/>
<path fill="#1d1d1b" d="M741.0,1077.5 L754.8,1095.3 L748.2,1094.2 L748.2,1108.7 L733.8,1106.3 L733.8,1091.8 L727.2,1090.7 Z"/>
<path fill="#fff" stroke="#1d1d1b" stroke-width="1.05" d="M582.8,1003.4C582.8,1009.7 577.7,1014.8 571.4,1014.8C565.1,1014.8 560.0,1009.7 560.0,1003.4C560.0,997.1 565.1,992.0 571.4,992.0C577.7,992.0 582.8,997.1 582.8,1003.4Z"/>
<path fill="none" stroke="#1d1d1b" stroke-width="1.05" d="M574.5,1011.6L574.5,1014.8M577.7,1009.9L577.7,1014.0M581.0,1007.5L581.0,1012.4M561.4,1001.8Q566.3,999.3 574.5,987.1"/>
<path fill="#dddddd" stroke="#1d1d1b" stroke-width="0.9" d="M623.4,938.2L562.2,1001.8Q559.0,1006.7 563.9,1011.6Q567.9,1014.8 572.0,1012.4L629.9,953.7Z"/>
<path fill="none" stroke="#1d1d1b" stroke-width="1.05" d="M621.0,944.3L563.9,1003.4"/>
<path fill="#1d1d1b" stroke="none" d="M578.1,951.0L590.0,955.4L585.9,962.6Q588.3,978.9 612.8,987.1L613.2,986.3L620.6,979.8Q620.1,987.1 614.4,991.6Q607.1,999.3 598.9,998.5Q582.6,995.3 575.3,970.8L569.2,975.7Z"/>
<path fill="#e2e2e2" stroke="#1d1d1b" stroke-width="1" d="M661.1,864.3L739.4,864.3L727.8,876.7Q703.0,898.4 679.7,917.0Q672.0,924.7 671.2,932.5L672.0,941.8Q668.9,946.4 662.7,948.0L637.9,954.2Q631.7,954.2 628.6,948.0L613.9,920.1Q612.3,913.9 619.3,910.8L639.4,903.0Q645.6,899.9 648.7,890.6Z"/>
<path fill="none" stroke="#1d1d1b" stroke-width="1.05" d="M694.5,864.3Q698.3,875.9 706.1,877.0L738.6,865.5M701.4,879.0Q672.0,906.1 651.8,924.7Q642.5,935.6 637.9,946.4M619.3,916.2L633.2,947.2Q634.8,949.8 639.4,948.8L667.3,941.8"/>
<circle cx="494.3" cy="968.1" r="45.7" fill="#fff" stroke="#1d1d1b" stroke-width="0.9"/><g transform="translate(494.3,968.1)"><path fill="#1d1d1b" d="M-34.5,18.5 Q-36,16 -33,13.5 L-14,1 Q-10,-1.5 -9,-5.5 L-8,-8.5 L-5,-10.5 L-1.5,-6.5 L22,-30.5 Q24.5,-32.5 25.5,-31 Q26.5,-29.5 24.5,-27 L2,-2.5 L5.5,1.5 L3,4.5 L-0.5,5.5 Q-4.5,6.5 -7.5,10 L-25,27.5 Q-28,29.5 -30,26.5 Z"/><circle cx="23.8" cy="1.6" r="9.2" fill="#fff" stroke="#1d1d1b" stroke-width="0.8"/><path fill="#1d1d1b" d="M21.6,-5 h4.4 v4.4 h4.4 v4.4 h-4.4 v4.4 h-4.4 v-4.4 h-4.4 v-4.4 h4.4 Z"/><path stroke="#1d1d1b" stroke-width="0.7" d="M18.6,-3.6 l10.4,10.4 M29,-3.6 l-10.4,10.4"/><text x="-2" y="27.3" font-family="Liberation Sans, sans-serif" font-size="15" fill="#1d1d1b" textLength="32.3">PZ 2</text></g>
<rect x="464.4" y="1018.2" width="58.3" height="24.3" fill="#fff" stroke="#1d1d1b" stroke-width="0.9"/><text x="467.7" y="1036.3" font-family="Liberation Sans, sans-serif" font-size="15.5" fill="#1d1d1b" textLength="51">2,1 Nm</text>
<path d="M687.0,976.7 L633.2,1014.6 L694.9,988.6" fill="#fff" stroke="#1d1d1b" stroke-width="0.9"/>
<path d="M729.0,1008.1 L738.6,1033.2 L740.5,1007.5" fill="#fff" stroke="#1d1d1b" stroke-width="0.9"/>
<circle cx="731.7" cy="961.9" r="46.5" fill="#fff" stroke="#1d1d1b" stroke-width="0.9"/>
<path d="M687.0,976.7 L633.2,1014.6 L694.9,988.6 Z" fill="#fff"/><path d="M687.0,976.7 L633.2,1014.6 L694.9,988.6" fill="none" stroke="#1d1d1b" stroke-width="0.9"/>
<path d="M729.0,1008.1 L738.6,1033.2 L740.5,1007.5 Z" fill="#fff"/><path d="M729.0,1008.1 L738.6,1033.2 L740.5,1007.5" fill="none" stroke="#1d1d1b" stroke-width="0.9"/>
<path d="M729.3,928.6 L743.2,952.3 H715.6 Z" fill="#fff" stroke="#1d1d1b" stroke-width="1.7" stroke-linejoin="miter"/><path d="M728.3,936.5 h2 l-0.6,9.5 h-0.8 Z M728.2,947.6 h2.2 v2 h-2.2 Z" fill="#1d1d1b"/>
<text x="706.4" y="972.3" font-family="Liberation Sans, sans-serif" font-size="15" fill="#1d1d1b" textLength="47">Do not</text><text x="706.4" y="986.7" font-family="Liberation Sans, sans-serif" font-size="15" fill="#1d1d1b" textLength="50">screw !</text>
<text x="645.6" y="1027" font-family="Liberation Sans, sans-serif" font-size="15" fill="#1d1d1b">N</text><text x="758.6" y="1049.5" font-family="Liberation Sans, sans-serif" font-size="15" fill="#1d1d1b">N</text>
<circle cx="451.4" cy="876.4" r="10" fill="#fff" stroke="#1d1d1b" stroke-width="0.9"/><text x="451.4" y="882.3" text-anchor="middle" font-family="Liberation Sans, sans-serif" font-size="16.5" fill="#1d1d1b">1</text>
<circle cx="576.0" cy="935.9" r="10" fill="#fff" stroke="#1d1d1b" stroke-width="0.9"/><text x="576.0" y="941.8" text-anchor="middle" font-family="Liberation Sans, sans-serif" font-size="16.5" fill="#1d1d1b">B</text>
<circle cx="771.2" cy="1143.0" r="10" fill="#fff" stroke="#1d1d1b" stroke-width="0.9"/><text x="771.2" y="1148.9" text-anchor="middle" font-family="Liberation Sans, sans-serif" font-size="16.5" fill="#1d1d1b">A</text>
</g>
<!-- 52_pic2.svg -->
<clipPath id="cp_pic2"><rect x="807" y="864.3" width="358.9000000000001" height="366.5"/></clipPath>
<g id="pic2" clip-path="url(#cp_pic2)" stroke-linejoin="round" stroke-linecap="round">
<path fill="none" stroke="#b4b4b4" stroke-width="0.8" d="M807.0,869.7L840.3,875.9M834.1,875.1L840.3,864.3"/>
<path fill="none" stroke="#b4b4b4" stroke-width="0.8" d="M835.6,875.1L893.0,885.2Q897.6,875.1 893.0,865.1"/>
<path fill="none" stroke="#b4b4b4" stroke-width="0.8" d="M829.4,886.8L828.7,918.5L820.1,927.8M884.5,884.4L885.2,926.3L879.0,938.7"/>
<path fill="none" stroke="#b4b4b4" stroke-width="0.8" d="M807.0,911.6L827.9,916.2L885.2,927.1M807.0,920.9L820.1,923.2"/>
<path fill="none" stroke="#b4b4b4" stroke-width="0.8" d="M820.1,927.8L809.3,941.8L807.7,969.7L807.0,997.6M831.0,924.7L879.0,934.0L866.6,951.1L864.3,1006.9"/>
<path fill="none" stroke="#b4b4b4" stroke-width="0.8" d="M809.3,944.1L865.1,954.2M807.7,969.7L863.5,979.8"/>
<path fill="none" stroke="#b4b4b4" stroke-width="0.8" d="M817.0,927.8L823.2,929.1L824.8,925.5M874.4,937.1L880.6,938.7L882.1,934.8"/>
<path fill="none" stroke="#b4b4b4" stroke-width="0.8" d="M826.3,991.4L831.0,991.4L831.8,997.6L837.2,998.4"/>
<path fill="none" stroke="#b4b4b4" stroke-width="0.8" d="M845.7,989.1C845.7,995.5 840.5,1000.7 834.1,1000.7C827.7,1000.7 822.5,995.5 822.5,989.1C822.5,982.6 827.7,977.4 834.1,977.4C840.5,977.4 845.7,982.6 845.7,989.1Z"/>
<path fill="none" stroke="#b4b4b4" stroke-width="0.8" d="M1147.7,946.4L1165.5,949.5M1149.3,955.7L1165.5,958.8M1152.4,966.6L1165.5,968.9M1152.4,974.3L1165.5,977.4"/>
<path fill="none" stroke="#b4b4b4" stroke-width="0.8" d="M1165.5,1007.7Q1153.9,1008.4 1155.5,1017.7Q1157.0,1025.5 1165.5,1025.5"/>
<path fill="none" stroke="#b4b4b4" stroke-width="0.8" d="M807.7,1055.8L815.5,1066.7M809.3,1062.0L813.9,1069.8M807.7,1072.9L815.5,1063.6"/>
<path fill="none" stroke="#b4b4b4" stroke-width="0.8" d="M1096.6,1051.2L1165.5,1063.6M1124.5,1046.5L1165.5,1053.5"/>
<path fill="none" stroke="#1d1d1b" stroke-width="1.05" d="M891.4,864.3L899.2,865.1M925.5,864.3L926.3,870.5L936.4,871.3L936.4,865.1"/>
<path fill="none" stroke="#1d1d1b" stroke-width="1.05" d="M893.0,865.1Q899.2,867.4 939.5,874.4Q948.8,876.7 952.7,882.1Q953.4,889.1 944.9,896.1"/>
<path fill="none" stroke="#1d1d1b" stroke-width="1.05" d="M885.2,885.2L944.9,896.1M885.2,889.9L942.6,900.7"/>
<path fill="none" stroke="#1d1d1b" stroke-width="1.05" d="M942.6,900.7L944.1,935.6L938.7,946.4"/>
<path fill="none" stroke="#1d1d1b" stroke-width="1.05" d="M885.2,927.1L939.5,936.4M883.7,935.6L889.9,934.0L934.8,943.3L930.2,951.1L934.8,951.9"/>
<path fill="none" stroke="#1d1d1b" stroke-width="1.05" d="M953.4,903.8L990.0,910.0M953.4,903.8L953.4,911.6L990.0,917.0"/>
<path fill="none" stroke="#1d1d1b" stroke-width="1.05" d="M950.3,934.0L990.0,939.5M948.0,946.4Q949.6,940.2 950.3,934.0M948.0,946.4L990.0,951.9M946.5,951.9L961.2,954.2"/>
<path fill="none" stroke="#1d1d1b" stroke-width="1.05" d="M965.0,939.5L975.1,940.5M970.2,939.9L970.2,946.4"/>
<path fill="none" stroke="#1d1d1b" stroke-width="1.05" d="M866.6,951.9L956.5,969.7M866.6,951.9L865.9,979.0L955.0,994.5"/>
<path fill="none" stroke="#1d1d1b" stroke-width="1.05" d="M891.4,960.4L897.6,961.9L896.9,975.9L894.5,988.3L889.9,987.5L891.4,977.4Z"/>
<path fill="none" stroke="#1d1d1b" stroke-width="1.05" d="M936.4,966.6L948.8,969.7L948.0,983.6L945.7,996.0L941.0,995.3L942.6,986.7L943.4,972.8L936.4,971.2Z"/>
<path fill="none" stroke="#1d1d1b" stroke-width="1.05" d="M807.0,997.6L990.0,1030.9"/>
<path fill="none" stroke="#1d1d1b" stroke-width="1.05" d="M807.0,1022.4L933.3,1045.0"/>
<path fill="none" stroke="#1d1d1b" stroke-width="1.05" d="M976.7,1011.5L978.2,1028.6"/>
<path fill="none" stroke="#1d1d1b" stroke-width="1.05" d="M865.1,980.5L863.5,1006.9"/>
<path fill="#fff" stroke="#1d1d1b" stroke-width="1.05" d="M901.5,1001.5C901.5,1007.6 896.3,1012.6 889.9,1012.6C883.5,1012.6 878.3,1007.6 878.3,1001.5C878.3,995.3 883.5,990.3 889.9,990.3C896.3,990.3 901.5,995.3 901.5,1001.5Z"/>
<path fill="none" stroke="#1d1d1b" stroke-width="1.05" d="M881.4,997.6L899.2,1002.2L886.8,1010.0ZM891.4,999.9L893.0,1008.4"/>
<path fill="#fff" stroke="#1d1d1b" stroke-width="1.05" d="M958.9,1011.5C958.9,1017.7 953.6,1022.7 947.2,1022.7C940.8,1022.7 935.6,1017.7 935.6,1011.5C935.6,1005.4 940.8,1000.4 947.2,1000.4C953.6,1000.4 958.9,1005.4 958.9,1011.5Z"/>
<path fill="none" stroke="#1d1d1b" stroke-width="1.05" d="M985.0,864.3L997.4,866.6M985.0,872.0L994.3,873.6Q1002.0,875.1 1000.5,882.9"/>
<path fill="none" stroke="#1d1d1b" stroke-width="1.05" d="M1005.1,875.1L1014.4,876.7L1013.7,884.4L1003.6,882.9Z"/>
<path fill="none" stroke="#1d1d1b" stroke-width="1.05" d="M1000.5,886.0L1008.2,887.5Q1009.8,893.7 1006.7,901.5L998.9,899.9Z"/>
<path fill="none" stroke="#1d1d1b" stroke-width="1.05" d="M985.0,899.9L997.4,902.3M985.0,909.2L989.6,910.0L989.6,917.0L985.0,916.2"/>
<path fill="none" stroke="#1d1d1b" stroke-width="1.05" d="M1029.9,864.3L1042.3,866.6"/>
<path fill="none" stroke="#1d1d1b" stroke-width="1.05" d="M1109.0,884.4Q1115.2,890.6 1115.2,901.5Q1114.4,913.9 1110.5,921.6"/>
<path fill="none" stroke="#1d1d1b" stroke-width="1.05" d="M1068.7,917.0L1093.5,921.6M1066.4,925.5L1067.1,930.9L1078.0,932.5"/>
<path fill="none" stroke="#1d1d1b" stroke-width="1.05" d="M1056.3,924.7L1056.3,963.5L1050.1,971.2L1043.9,970.5"/>
<path fill="none" stroke="#1d1d1b" stroke-width="1.05" d="M985.0,941.8L988.1,942.6L988.1,954.2L985.0,953.4"/>
<path fill="none" stroke="#1d1d1b" stroke-width="1.05" d="M994.3,977.4L1059.4,989.8M1011.3,980.5L1056.3,988.3"/>
<path fill="none" stroke="#1d1d1b" stroke-width="1.05" d="M1005.1,985.2L1012.1,986.0L1011.3,996.0L1005.1,995.3Z"/>
<path fill="none" stroke="#1d1d1b" stroke-width="1.05" d="M1057.8,1000.7L1064.0,1001.5L1062.5,1016.2L1056.3,1015.4Z"/>
<path fill="none" stroke="#1d1d1b" stroke-width="1.05" d="M1003.6,1008.4L1057.8,1017.7"/>
<path fill="none" stroke="#1d1d1b" stroke-width="1.05" d="M985.0,1030.1L1078.0,1045.0"/>
<path fill="none" stroke="#1d1d1b" stroke-width="1.05" d="M1006.4,893.7C1006.4,896.3 1005.1,898.4 1003.6,898.4C1002.1,898.4 1000.8,896.3 1000.8,893.7C1000.8,891.2 1002.1,889.1 1003.6,889.1C1005.1,889.1 1006.4,891.2 1006.4,893.7Z"/>
<path fill="#fff" stroke="#1d1d1b" stroke-width="1.05" d="M1015.2,1022.4C1015.2,1028.5 1010.0,1033.5 1003.6,1033.5C997.2,1033.5 992.0,1028.5 992.0,1022.4C992.0,1016.2 997.2,1011.2 1003.6,1011.2C1010.0,1011.2 1015.2,1016.2 1015.2,1022.4Z"/>
<path fill="none" stroke="#1d1d1b" stroke-width="1.05" d="M1011.3,1023.1C1011.3,1027.6 1007.5,1031.2 1002.8,1031.2C998.1,1031.2 994.3,1027.6 994.3,1023.1C994.3,1018.7 998.1,1015.1 1002.8,1015.1C1007.5,1015.1 1011.3,1018.7 1011.3,1023.1Z"/>
<path fill="#fff" stroke="#1d1d1b" stroke-width="1.05" d="M1073.3,1031.7C1073.3,1037.8 1068.1,1042.8 1061.7,1042.8C1055.3,1042.8 1050.1,1037.8 1050.1,1031.7C1050.1,1025.5 1055.3,1020.5 1061.7,1020.5C1068.1,1020.5 1073.3,1025.5 1073.3,1031.7Z"/>
<path fill="none" stroke="#1d1d1b" stroke-width="1.05" d="M1069.5,1032.4C1069.5,1036.9 1065.6,1040.5 1060.9,1040.5C1056.2,1040.5 1052.4,1036.9 1052.4,1032.4C1052.4,1028.0 1056.2,1024.4 1060.9,1024.4C1065.6,1024.4 1069.5,1028.0 1069.5,1032.4Z"/>
<path fill="none" stroke="#1d1d1b" stroke-width="1.05" d="M995.8,1017.7L1012.9,1022.4L1000.5,1030.1Z"/>
<path fill="none" stroke="#1d1d1b" stroke-width="1.05" d="M807.0,1047.3L990.0,1079.9"/>
<path fill="none" stroke="#1d1d1b" stroke-width="1.05" d="M933.3,1045.0L990.0,1055.2"/>
<path fill="none" stroke="#1d1d1b" stroke-width="1.05" d="M829.4,1068.2Q831.0,1062.8 837.2,1060.5L866.6,1065.1L857.3,1075.2L832.5,1071.3Z"/>
<path fill="none" stroke="#1d1d1b" stroke-width="1.05" d="M886.8,1079.1Q888.3,1073.7 894.5,1071.3L925.5,1076.0L916.2,1086.1L889.9,1082.2Z"/>
<path fill="none" stroke="#1d1d1b" stroke-width="1.05" d="M942.6,1089.2Q944.1,1083.7 950.3,1082.2L980.5,1086.8L970.5,1096.1L945.7,1092.3Z"/>
<path fill="none" stroke="#1d1d1b" stroke-width="1.05" d="M838.7,1065.9L855.8,1068.6M896.1,1076.8L914.7,1079.9M951.9,1086.8L970.5,1089.9"/>
<path fill="none" stroke="#1d1d1b" stroke-width="1.05" d="M858.9,1057.4L851.1,1065.1M916.2,1068.2L908.5,1076.0M945.7,1072.9L924.0,1096.1M972.0,1077.5L964.3,1085.3"/>
<path fill="none" stroke="#1d1d1b" stroke-width="1.05" d="M862.0,1088.4L891.4,1093.8M975.1,1107.0L990.0,1110.1"/>
<path fill="#b5b5b5" stroke="#1d1d1b" stroke-width="0.7" d="M890.7,1075.2L893.0,1071.3L915.5,1074.4L913.9,1078.3Z"/>
<path fill="#fff" stroke="#1d1d1b" stroke-width="1.7" d="M807.7,1076.0L813.9,1071.3L858.9,1079.1L862.0,1086.8Q858.9,1102.3 846.5,1103.1Q832.5,1096.1 817.0,1098.5Q806.2,1093.0 807.7,1076.0Z"/>
<path fill="none" stroke="#1d1d1b" stroke-width="1.35" d="M817.0,1077.5L846.5,1083.0L846.5,1093.0L818.6,1088.4ZM823.2,1080.6L840.3,1083.7L840.3,1089.2L823.2,1086.1ZM812.4,1082.2L817.0,1091.5M852.7,1085.3L854.2,1096.1"/>
<path fill="none" stroke="#1d1d1b" stroke-width="1.35" d="M823.2,1095.1C823.0,1096.1 820.8,1096.6 818.3,1096.1C815.7,1095.7 813.8,1094.5 814.0,1093.5C814.2,1092.5 816.4,1092.0 818.9,1092.5C821.4,1092.9 823.4,1094.1 823.2,1095.1Z"/>
<path fill="none" stroke="#1d1d1b" stroke-width="1.35" d="M852.6,1100.0C852.4,1101.1 850.2,1101.5 847.7,1101.1C845.2,1100.6 843.3,1099.4 843.5,1098.4C843.6,1097.4 845.8,1097.0 848.4,1097.4C850.9,1097.9 852.8,1099.0 852.6,1100.0Z"/>
<path fill="none" stroke="#1d1d1b" stroke-width="1.35" d="M810.8,1077.5L815.5,1085.3L812.4,1093.0M849.6,1080.6L851.1,1091.5L857.3,1094.6M827.9,1090.7L829.4,1096.1M838.7,1092.3L839.5,1097.7"/>
<path fill="#fff" stroke="#1d1d1b" stroke-width="1.7" d="M917.8,1097.7L924.0,1093.0L968.9,1100.8L972.0,1108.5Q968.9,1124.0 956.5,1124.8Q942.6,1117.8 927.1,1120.2Q916.2,1114.7 917.8,1097.7Z"/>
<path fill="none" stroke="#1d1d1b" stroke-width="1.35" d="M927.1,1099.2L956.5,1104.7L956.5,1114.7L928.6,1110.1ZM933.3,1102.3L950.3,1105.4L950.3,1110.9L933.3,1107.8ZM922.4,1103.9L927.1,1113.2M962.7,1107.0L964.3,1117.8"/>
<path fill="none" stroke="#1d1d1b" stroke-width="1.35" d="M933.2,1116.8C933.0,1117.8 930.8,1118.3 928.3,1117.8C925.8,1117.4 923.9,1116.2 924.1,1115.2C924.2,1114.2 926.4,1113.7 929.0,1114.2C931.5,1114.6 933.4,1115.8 933.2,1116.8Z"/>
<path fill="none" stroke="#1d1d1b" stroke-width="1.35" d="M962.6,1121.7C962.5,1122.8 960.3,1123.2 957.8,1122.8C955.2,1122.3 953.3,1121.1 953.5,1120.1C953.7,1119.1 955.9,1118.7 958.4,1119.1C960.9,1119.6 962.8,1120.7 962.6,1121.7Z"/>
<path fill="none" stroke="#1d1d1b" stroke-width="1.35" d="M920.9,1099.2L925.5,1107.0L922.4,1114.7M959.6,1102.3L961.2,1113.2L967.4,1116.3M937.9,1112.4L939.5,1117.8M948.8,1114.0L949.6,1119.4"/>
<path fill="none" stroke="#1d1d1b" stroke-width="1.05" d="M985.0,1054.3L1091.9,1072.9L1095.3,1068.2L1095.0,1048.1L1090.4,1045.0"/>
<path fill="none" stroke="#1d1d1b" stroke-width="1.05" d="M985.0,1078.3L1076.4,1095.4L1093.5,1076.0L1095.3,1068.2"/>
<path fill="none" stroke="#1d1d1b" stroke-width="1.05" d="M1028.4,1087.6L1023.7,1093.0M1059.4,1093.0L1031.5,1119.4L1005.1,1114.7"/>
<path fill="none" stroke="#1d1d1b" stroke-width="1.05" d="M1000.5,1099.2Q1002.0,1094.6 1008.2,1091.5L1038.5,1096.1L1029.9,1105.4L1003.6,1101.6Z"/>
<path fill="none" stroke="#1d1d1b" stroke-width="1.05" d="M985.0,1110.9L1005.1,1114.7"/>
<path fill="none" stroke="#1d1d1b" stroke-width="1.05" d="M1068.7,1045.0L1091.9,1048.9"/>
<path fill="#b5b5b5" stroke="#1d1d1b" stroke-width="0.7" d="M1005.1,1095.4L1008.2,1091.5L1029.9,1094.9L1026.8,1098.5Z"/>
<path d="M895.3,1170.0 V1132.6 A7.0,7.0 0 0 1 909.3,1132.6 V1173.0 Z" fill="#cacaca" stroke="#1d1d1b" stroke-width="1"/><path d="M897.3,1170.0 V1132.6" stroke="#555" stroke-width="0.7" fill="none"/>
<path d="M1011.3,1190.7 V1152.8 A7.1,7.1 0 0 1 1025.6,1152.8 V1193.7 Z" fill="#cacaca" stroke="#1d1d1b" stroke-width="1"/><path d="M1013.3,1190.7 V1152.8" stroke="#555" stroke-width="0.7" fill="none"/>
<path d="M1128.4,1211.6 V1173.4 A6.7,6.7 0 0 1 1141.8,1173.4 V1214.6 Z" fill="#cacaca" stroke="#1d1d1b" stroke-width="1"/><path d="M1130.4,1211.6 V1173.4" stroke="#555" stroke-width="0.7" fill="none"/>
<path fill="#cacaca" stroke="#1d1d1b" stroke-width="1" d="M891.4,1169.0L1170.0,1217.1L1170.0,1240.0L1040.0,1240.0L888.3,1212.4L886.5,1175.0Z"/>
<path fill="none" stroke="#1d1d1b" stroke-width="1.05" d="M891.4,1169.0L893.0,1206.0L888.3,1212.4M893.0,1206.0L1040.0,1232.0"/>
<path fill="none" stroke="#2a2a2a" stroke-width="0.9" stroke-dasharray="5 3" d="M895.3,1106 V1126 M909.7,1107 V1127"/>
<path fill="none" stroke="#2a2a2a" stroke-width="0.9" stroke-dasharray="5 3" d="M1011.5,1127 V1146 M1025.5,1128 V1147"/>
<path fill="#1d1d1b" d="M902.3,1076.8 L916.1,1093.8 L909.8,1092.8 L909.8,1106.7 L894.8,1104.1 L894.8,1090.2 L888.5,1089.2 Z"/>
<path fill="#1d1d1b" d="M1018.8,1096.9 L1032.6,1113.9 L1026.2,1112.9 L1026.2,1126.8 L1011.3,1124.2 L1011.3,1110.3 L1005.0,1109.3 Z"/>
<text x="918.2" y="1167.4" font-family="Liberation Sans, sans-serif" font-size="23.5" fill="#1d1d1b">N</text><text x="1035.4" y="1186.8" font-family="Liberation Sans, sans-serif" font-size="23.5" fill="#1d1d1b">N</text>
<path fill="#dddddd" stroke="#1d1d1b" stroke-width="0.9" d="M1011.1,935.2L949.9,998.8Q946.7,1003.7 951.6,1008.6Q955.6,1011.8 959.7,1009.4L1017.6,950.7Z"/>
<path fill="none" stroke="#1d1d1b" stroke-width="1.05" d="M1008.7,941.3L951.6,1000.4"/>
<path fill="#1d1d1b" stroke="none" d="M965.8,948.0L977.7,952.4L973.6,959.6Q976.0,975.9 1000.5,984.1L1000.9,983.3L1008.3,976.8Q1007.8,984.1 1002.1,988.6Q994.8,996.3 986.6,995.5Q970.3,992.3 963.0,967.8L956.9,972.7Z"/>
<path fill="#e2e2e2" stroke="#1d1d1b" stroke-width="1" d="M1043.9,864.3L1114.4,864.3Q1117.0,869.7 1113.6,875.9L1108.2,884.4L1081.1,899.9Q1059.4,917.0 1048.5,932.5L1047.8,941.8Q1048.5,949.5 1043.9,952.6L1016.0,961.9Q1010.6,962.7 1008.2,958.8L991.2,927.8Q989.6,923.2 994.3,920.1L1014.4,913.9L1022.2,906.1L1029.9,886.0Z"/>
<path fill="none" stroke="#1d1d1b" stroke-width="1.05" d="M1070.2,864.3L1078.0,879.8L1113.6,866.6M1078.0,887.5Q1047.0,913.9 1031.5,932.5L1014.4,954.2M995.8,924.0L1010.6,955.7Q1012.1,958.5 1016.0,957.3L1043.9,948.0"/>
<path d="M1059.1,985.2 L943.4,1014.6 L1063.3,995.7" fill="#fff" stroke="#1d1d1b" stroke-width="0.9"/><path d="M1066.8,997.9 L1058.6,1033.2 L1077.2,1008.4" fill="#fff" stroke="#1d1d1b" stroke-width="0.9"/><circle cx="1104.3" cy="970.5" r="47.3" fill="#fff" stroke="#1d1d1b" stroke-width="0.9"/><path d="M1059.1,985.2 L943.4,1014.6 L1063.3,995.7 Z" fill="#fff" stroke="none"/><path d="M1059.1,985.2 L943.4,1014.6 L1063.3,995.7" fill="none" stroke="#1d1d1b" stroke-width="0.9"/><path d="M1066.8,997.9 L1058.6,1033.2 L1077.2,1008.4 Z" fill="#fff" stroke="none"/><path d="M1066.8,997.9 L1058.6,1033.2 L1077.2,1008.4" fill="none" stroke="#1d1d1b" stroke-width="0.9"/><g transform="translate(1104.3,970.5)"><path fill="#1d1d1b" d="M-34.5,18.5 Q-36,16 -33,13.5 L-14,1 Q-10,-1.5 -9,-5.5 L-8,-8.5 L-5,-10.5 L-1.5,-6.5 L22,-30.5 Q24.5,-32.5 25.5,-31 Q26.5,-29.5 24.5,-27 L2,-2.5 L5.5,1.5 L3,4.5 L-0.5,5.5 Q-4.5,6.5 -7.5,10 L-25,27.5 Q-28,29.5 -30,26.5 Z"/><circle cx="23.8" cy="1.6" r="9.2" fill="#fff" stroke="#1d1d1b" stroke-width="0.8"/><path fill="#1d1d1b" d="M21.6,-5 h4.4 v4.4 h4.4 v4.4 h-4.4 v4.4 h-4.4 v-4.4 h-4.4 v-4.4 h4.4 Z"/><path stroke="#1d1d1b" stroke-width="0.7" d="M18.6,-3.6 l10.4,10.4 M29,-3.6 l-10.4,10.4"/><text x="-2" y="27.3" font-family="Liberation Sans, sans-serif" font-size="15" fill="#1d1d1b" textLength="32.3">PZ 2</text></g>
<rect x="1076.4" y="1020.5" width="58.3" height="24.3" fill="#fff" stroke="#1d1d1b" stroke-width="0.9"/><text x="1079.7" y="1038.6" font-family="Liberation Sans, sans-serif" font-size="15.5" fill="#1d1d1b" textLength="51">2,1 Nm</text>
<text x="963.5" y="1022.4" font-family="Liberation Sans, sans-serif" font-size="15" fill="#1d1d1b">N</text>
<circle cx="822.7" cy="876.4" r="10" fill="#fff" stroke="#1d1d1b" stroke-width="0.9"/><text x="822.7" y="882.3" text-anchor="middle" font-family="Liberation Sans, sans-serif" font-size="16.5" fill="#1d1d1b">2</text>
<circle cx="963.5" cy="918.5" r="10" fill="#fff" stroke="#1d1d1b" stroke-width="0.9"/><text x="963.5" y="924.4" text-anchor="middle" font-family="Liberation Sans, sans-serif" font-size="16.5" fill="#1d1d1b">D</text>
<circle cx="872.8" cy="1127.1" r="10" fill="#fff" stroke="#1d1d1b" stroke-width="0.9"/><text x="872.8" y="1133.0" text-anchor="middle" font-family="Liberation Sans, sans-serif" font-size="16.5" fill="#1d1d1b">C</text>
</g>
<!-- 53_pic3.svg -->
<clipPath id="cp_pic3"><rect x="439.3" y="1264.3" width="356.2" height="366.5"/></clipPath>
<g id="pic3" clip-path="url(#cp_pic3)" stroke-linejoin="round" stroke-linecap="round">
<path fill="none" stroke="#b4b4b4" stroke-width="0.8" d="M465.6,1264.3L529.2,1275.1Q530.7,1268.9 527.6,1264.3"/>
<path fill="none" stroke="#b4b4b4" stroke-width="0.8" d="M464.1,1272.0L496.6,1278.2L498.2,1282.9L555.5,1293.0"/>
<path fill="none" stroke="#b4b4b4" stroke-width="0.8" d="M464.1,1276.7L496.6,1282.9"/>
<path fill="none" stroke="#b4b4b4" stroke-width="0.8" d="M482.7,1264.3L481.1,1267.4M499.7,1264.3L498.2,1270.5M515.2,1264.3L512.9,1272.0"/>
<path fill="none" stroke="#b4b4b4" stroke-width="0.8" d="M529.2,1275.1L564.8,1280.6Q571.0,1275.1 567.9,1267.4L550.9,1264.3"/>
<path fill="none" stroke="#b4b4b4" stroke-width="0.8" d="M555.5,1289.1L558.6,1332.5L554.0,1339.5"/>
<path fill="none" stroke="#b4b4b4" stroke-width="0.8" d="M439.3,1309.2L445.5,1306.1L447.0,1309.2L557.1,1329.4"/>
<path fill="none" stroke="#b4b4b4" stroke-width="0.8" d="M439.3,1321.6Q442.4,1317.0 448.6,1319.3L488.9,1327.8L492.0,1332.5L498.2,1327.8L552.4,1338.7"/>
<path fill="none" stroke="#b4b4b4" stroke-width="0.8" d="M493.5,1314.7L500.5,1315.8L500.5,1318.5"/>
<path fill="none" stroke="#b4b4b4" stroke-width="0.8" d="M439.3,1341.8L479.6,1348.0L478.0,1410.0L464.1,1431.7L447.0,1445.0"/>
<path fill="none" stroke="#b4b4b4" stroke-width="0.8" d="M479.6,1348.0L492.0,1333.3"/>
<path fill="none" stroke="#b4b4b4" stroke-width="0.8" d="M481.1,1348.0L536.9,1358.8L535.4,1419.3"/>
<path fill="none" stroke="#b4b4b4" stroke-width="0.8" d="M536.9,1358.8L550.9,1341.8L555.5,1345.7L549.3,1339.5"/>
<path fill="none" stroke="#b4b4b4" stroke-width="0.8" d="M439.3,1368.1L476.5,1375.1M478.0,1374.3L536.9,1384.4"/>
<path fill="none" stroke="#b4b4b4" stroke-width="0.8" d="M439.3,1399.1L476.5,1406.1M476.5,1410.0L535.4,1420.0"/>
<path fill="none" stroke="#b4b4b4" stroke-width="0.8" d="M439.3,1417.0L476.5,1423.1M478.0,1419.3L516.8,1427.0"/>
<path fill="none" stroke="#b4b4b4" stroke-width="0.8" d="M439.3,1422.4L454.8,1425.5Q457.9,1430.1 464.1,1427.0L481.1,1430.1Q488.9,1437.9 499.7,1434.8L516.8,1437.9"/>
<path fill="none" stroke="#b4b4b4" stroke-width="0.8" d="M439.3,1427.0L468.7,1432.4"/>
<path fill="none" stroke="#b4b4b4" stroke-width="0.8" d="M453.2,1391.4Q450.1,1382.1 439.3,1379.0M439.3,1372.8Q454.8,1371.2 459.4,1383.6Q459.4,1394.5 448.6,1395.3"/>
<path fill="none" stroke="#b4b4b4" stroke-width="0.8" d="M502.8,1392.9Q512.1,1394.5 516.8,1403.8"/>
<path fill="none" stroke="#b4b4b4" stroke-width="0.8" d="M517.6,1393.7C517.6,1400.4 512.4,1405.8 505.9,1405.8C499.5,1405.8 494.3,1400.4 494.3,1393.7C494.3,1387.0 499.5,1381.6 505.9,1381.6C512.4,1381.6 517.6,1387.0 517.6,1393.7Z"/>
<path fill="none" stroke="#b4b4b4" stroke-width="0.8" d="M439.3,1460.5L461.0,1454.3"/>
<path fill="none" stroke="#b4b4b4" stroke-width="0.8" d="M439.3,1451.2L450.1,1448.1L481.1,1454.3L482.7,1460.5L468.7,1465.1L448.6,1460.5Z"/>
<path fill="none" stroke="#b4b4b4" stroke-width="0.8" d="M439.3,1469.8L456.3,1472.9L457.9,1478.3L473.4,1481.4L468.7,1484.5"/>
<path fill="none" stroke="#b4b4b4" stroke-width="0.8" d="M488.9,1479.1L516.8,1445.0"/>
<path fill="none" stroke="#1d1d1b" stroke-width="1.05" d="M563.3,1264.3L564.8,1268.9L574.1,1270.5L575.7,1264.3"/>
<path fill="none" stroke="#1d1d1b" stroke-width="1.05" d="M598.9,1265.8L600.5,1272.0L609.8,1273.6L610.5,1268.2Z"/>
<path fill="none" stroke="#1d1d1b" stroke-width="1.05" d="M569.5,1273.6L620.0,1282.1M558.6,1289.9L620.0,1299.9M559.4,1293.7L620.0,1303.4"/>
<path fill="none" stroke="#1d1d1b" stroke-width="1.05" d="M614.4,1276.7L620.0,1279.8"/>
<path fill="none" stroke="#1d1d1b" stroke-width="1.05" d="M559.4,1330.9L620.0,1341.8"/>
<path fill="none" stroke="#1d1d1b" stroke-width="1.05" d="M554.0,1339.5L561.7,1338.7L564.8,1341.8L575.7,1343.3"/>
<path fill="none" stroke="#1d1d1b" stroke-width="1.05" d="M538.5,1357.3L552.4,1343.3"/>
<path fill="none" stroke="#1d1d1b" stroke-width="1.05" d="M537.7,1358.1L578.8,1365.3M537.7,1358.1L536.9,1384.4"/>
<path fill="none" stroke="#1d1d1b" stroke-width="1.05" d="M536.9,1384.4L566.4,1389.8"/>
<path fill="none" stroke="#1d1d1b" stroke-width="1.05" d="M538.5,1366.6L540.0,1366.6L540.0,1382.1L537.7,1383.6"/>
<path fill="none" stroke="#1d1d1b" stroke-width="1.05" d="M564.8,1363.5L572.6,1365.0L571.8,1379.0L569.5,1388.3L564.8,1387.5L566.4,1379.0Z"/>
<path fill="none" stroke="#1d1d1b" stroke-width="1.05" d="M608.2,1374.3L620.0,1376.2M609.8,1374.3L610.5,1379.0L620.0,1380.5"/>
<path fill="#fff" stroke="#1d1d1b" stroke-width="1.05" d="M626.0,1414.6C626.0,1419.3 622.6,1423.1 618.3,1423.1C614.0,1423.1 610.5,1419.3 610.5,1414.6C610.5,1409.9 614.0,1406.1 618.3,1406.1C622.6,1406.1 626.0,1409.9 626.0,1414.6Z"/>
<path fill="none" stroke="#1d1d1b" stroke-width="1.05" d="M613.6,1411.5L620.0,1412.3M614.4,1411.5L615.2,1419.3"/>
<path fill="none" stroke="#1d1d1b" stroke-width="1.05" d="M610.0,1273.6Q622.4,1278.2 625.5,1286.0Q623.9,1292.2 619.3,1296.8"/>
<path fill="none" stroke="#1d1d1b" stroke-width="1.05" d="M628.6,1264.3L656.5,1268.9"/>
<path fill="none" stroke="#1d1d1b" stroke-width="1.05" d="M610.0,1286.0L625.5,1288.3"/>
<path fill="none" stroke="#1d1d1b" stroke-width="1.05" d="M712.3,1288.3L723.1,1289.9L723.9,1294.5L712.3,1293.0Z"/>
<path fill="none" stroke="#1d1d1b" stroke-width="1.05" d="M727.8,1281.3L782.0,1290.6M703.0,1299.9L734.0,1305.4Q741.7,1309.2 738.6,1315.4L732.4,1320.1"/>
<path fill="none" stroke="#1d1d1b" stroke-width="1.05" d="M785.1,1264.3L783.6,1289.1Q789.8,1295.3 788.2,1317.0L782.0,1327.8L785.1,1383.6"/>
<path fill="none" stroke="#1d1d1b" stroke-width="1.05" d="M681.3,1312.3L782.0,1327.8"/>
<path fill="none" stroke="#1d1d1b" stroke-width="1.05" d="M758.8,1332.5L776.6,1334.8L775.8,1341.8L757.2,1338.7"/>
<path fill="none" stroke="#1d1d1b" stroke-width="1.05" d="M698.3,1301.5L737.1,1307.7"/>
<path fill="none" stroke="#1d1d1b" stroke-width="1.05" d="M616.2,1320.1L617.0,1341.8M614.6,1341.8L630.1,1345.7"/>
<path fill="none" stroke="#1d1d1b" stroke-width="1.05" d="M642.5,1349.5L643.3,1354.2M661.1,1343.3L661.9,1355.7L656.5,1361.9L625.5,1355.7"/>
<path fill="none" stroke="#1d1d1b" stroke-width="1.05" d="M670.4,1341.8L672.0,1354.2L667.3,1366.6"/>
<path fill="none" stroke="#1d1d1b" stroke-width="1.05" d="M653.4,1377.4L676.6,1382.1L675.1,1386.7M653.4,1377.4L651.8,1388.3L648.7,1387.5"/>
<path fill="none" stroke="#1d1d1b" stroke-width="1.05" d="M610.0,1366.6L617.7,1368.1L617.0,1377.4L610.0,1376.7"/>
<path fill="none" stroke="#1d1d1b" stroke-width="1.05" d="M630.1,1374.3L653.4,1378.2"/>
<path fill="none" stroke="#1d1d1b" stroke-width="1.05" d="M768.1,1363.5L775.0,1364.3L774.3,1379.0L768.1,1383.6L768.9,1379.0"/>
<path fill="none" stroke="#1d1d1b" stroke-width="1.05" d="M763.4,1399.1L766.5,1399.9L765.0,1408.4"/>
<path fill="none" stroke="#1d1d1b" stroke-width="1.05" d="M765.0,1388.3L782.0,1383.6"/>
<path fill="none" stroke="#1d1d1b" stroke-width="1.05" d="M791.3,1344.9L794.4,1345.2M788.2,1354.2L794.4,1355.0M788.2,1361.9L794.4,1362.9M788.2,1369.7L794.4,1370.9M788.2,1375.1L794.4,1376.2"/>
<path fill="#fff" stroke="#1d1d1b" stroke-width="1.05" d="M632.5,1416.2C632.5,1422.2 627.3,1427.0 620.8,1427.0C614.4,1427.0 609.2,1422.2 609.2,1416.2C609.2,1410.2 614.4,1405.3 620.8,1405.3C627.3,1405.3 632.5,1410.2 632.5,1416.2Z"/>
<path fill="none" stroke="#1d1d1b" stroke-width="1.05" d="M628.6,1417.0C628.6,1421.4 624.8,1425.0 620.1,1425.0C615.4,1425.0 611.5,1421.4 611.5,1417.0C611.5,1412.5 615.4,1408.9 620.1,1408.9C624.8,1408.9 628.6,1412.5 628.6,1417.0Z"/>
<path fill="#fff" stroke="#1d1d1b" stroke-width="1.05" d="M688.3,1427.0C688.3,1433.0 683.1,1437.9 676.6,1437.9C670.2,1437.9 665.0,1433.0 665.0,1427.0C665.0,1421.0 670.2,1416.2 676.6,1416.2C683.1,1416.2 688.3,1421.0 688.3,1427.0Z"/>
<path fill="none" stroke="#1d1d1b" stroke-width="1.05" d="M684.4,1427.8C684.4,1432.2 680.6,1435.9 675.9,1435.9C671.2,1435.9 667.3,1432.2 667.3,1427.8C667.3,1423.4 671.2,1419.7 675.9,1419.7C680.6,1419.7 684.4,1423.4 684.4,1427.8Z"/>
<path fill="none" stroke="#1d1d1b" stroke-width="1.05" d="M614.6,1411.5L620.8,1411.5L621.6,1419.3L625.5,1420.0M613.9,1411.5L614.6,1420.8L623.9,1423.1"/>
<path fill="none" stroke="#1d1d1b" stroke-width="1.05" d="M468.7,1482.2L468.7,1494.6L474.9,1489.9"/>
<path fill="none" stroke="#1d1d1b" stroke-width="1.05" d="M582.7,1500.8L582.7,1514.7L589.6,1508.5"/>
<path fill="none" stroke="#1d1d1b" stroke-width="1.05" d="M502.8,1474.4Q504.4,1468.2 510.6,1465.1L530.7,1468.2L529.2,1472.9Q526.1,1473.7 523.0,1472.9L504.4,1470.6"/>
<path fill="none" stroke="#1d1d1b" stroke-width="1.05" d="M502.8,1474.4L529.2,1478.3M507.5,1466.7L527.6,1469.8"/>
<path fill="none" stroke="#1d1d1b" stroke-width="1.05" d="M561.7,1483.7Q563.3,1478.3 569.5,1475.2L589.6,1478.3L588.1,1483.0Q585.0,1483.7 581.9,1483.0L563.3,1480.3"/>
<path fill="none" stroke="#1d1d1b" stroke-width="1.05" d="M561.7,1483.7L588.1,1488.1"/>
<path fill="none" stroke="#1d1d1b" stroke-width="1.05" d="M535.4,1493.0L583.4,1502.3"/>
<path fill="none" stroke="#1d1d1b" stroke-width="1.05" d="M485.8,1477.5L496.6,1469.8M600.5,1496.1L609.8,1488.4"/>
<path fill="none" stroke="#1d1d1b" stroke-width="1.05" d="M550.9,1445.0L569.5,1447.8Q574.1,1446.5 573.4,1445.0"/>
<path fill="none" stroke="#1d1d1b" stroke-width="1.05" d="M582.7,1449.6L609.8,1453.5Q612.9,1452.7 613.6,1450.4L620.0,1451.2"/>
<path fill="#fff" stroke="#1d1d1b" stroke-width="1.7" d="M478.0,1486.1L484.2,1481.4L529.2,1489.2L532.3,1496.9Q529.2,1512.4 516.8,1513.2Q502.8,1506.2 487.3,1508.5Q476.5,1503.1 478.0,1486.1Z"/>
<path fill="none" stroke="#1d1d1b" stroke-width="1.35" d="M487.3,1487.6L516.8,1493.0L516.8,1503.1L488.9,1498.5ZM493.5,1490.7L510.6,1493.8L510.6,1499.2L493.5,1496.1ZM482.7,1492.3L487.3,1501.6M523.0,1495.4L524.5,1506.2"/>
<path fill="none" stroke="#1d1d1b" stroke-width="1.35" d="M493.5,1505.2C493.3,1506.2 491.1,1506.6 488.6,1506.2C486.0,1505.7 484.1,1504.6 484.3,1503.6C484.5,1502.5 486.7,1502.1 489.2,1502.5C491.7,1503.0 493.6,1504.2 493.5,1505.2Z"/>
<path fill="none" stroke="#1d1d1b" stroke-width="1.35" d="M522.9,1510.1C522.7,1511.1 520.5,1511.6 518.0,1511.1C515.5,1510.7 513.6,1509.5 513.8,1508.5C513.9,1507.5 516.1,1507.0 518.7,1507.5C521.2,1507.9 523.1,1509.1 522.9,1510.1Z"/>
<path fill="none" stroke="#1d1d1b" stroke-width="1.35" d="M481.1,1487.6L485.8,1495.4L482.7,1503.1M519.9,1490.7L521.4,1501.6L527.6,1504.7M498.2,1500.8L499.7,1506.2M509.0,1502.3L509.8,1507.8"/>
<path fill="#fff" stroke="#1d1d1b" stroke-width="1.7" d="M592.0,1506.2L598.1,1501.6L643.1,1509.3L646.2,1517.1Q643.1,1532.6 630.7,1533.3Q616.7,1526.4 601.2,1528.7Q590.4,1523.3 592.0,1506.2Z"/>
<path fill="none" stroke="#1d1d1b" stroke-width="1.35" d="M601.2,1507.8L630.7,1513.2L630.7,1523.3L602.8,1518.6ZM607.4,1510.9L624.5,1514.0L624.5,1519.4L607.4,1516.3ZM596.6,1512.4L601.2,1521.7M636.9,1515.5L638.4,1526.4"/>
<path fill="none" stroke="#1d1d1b" stroke-width="1.35" d="M607.4,1525.3C607.2,1526.3 605.0,1526.8 602.5,1526.3C599.9,1525.9 598.0,1524.7 598.2,1523.7C598.4,1522.7 600.6,1522.2 603.1,1522.7C605.7,1523.1 607.6,1524.3 607.4,1525.3Z"/>
<path fill="none" stroke="#1d1d1b" stroke-width="1.35" d="M636.8,1530.3C636.6,1531.3 634.4,1531.7 631.9,1531.3C629.4,1530.8 627.5,1529.7 627.7,1528.7C627.8,1527.6 630.0,1527.2 632.6,1527.6C635.1,1528.1 637.0,1529.3 636.8,1530.3Z"/>
<path fill="none" stroke="#1d1d1b" stroke-width="1.35" d="M595.0,1507.8L599.7,1515.5L596.6,1523.3M633.8,1510.9L635.3,1521.7L641.5,1524.8M612.1,1520.9L613.6,1526.4M622.9,1522.5L623.7,1527.9"/>
<path fill="none" stroke="#1d1d1b" stroke-width="1.05" d="M610.0,1454.3L628.6,1457.4Q631.7,1455.8 630.1,1453.5L610.0,1450.4"/>
<path fill="none" stroke="#1d1d1b" stroke-width="1.05" d="M638.7,1458.9L684.4,1466.7Q687.5,1465.1 685.9,1462.8L640.2,1455.5Q636.3,1456.6 638.7,1458.9Z"/>
<path fill="none" stroke="#1d1d1b" stroke-width="1.05" d="M696.8,1469.8L743.3,1477.5Q746.4,1476.0 744.8,1473.7L698.3,1466.4Q694.5,1467.5 696.8,1469.8Z"/>
<path fill="none" stroke="#1d1d1b" stroke-width="1.05" d="M614.6,1476.0L633.2,1455.8M698.3,1496.1L724.7,1470.6M730.9,1499.2L765.0,1462.0"/>
<path fill="none" stroke="#1d1d1b" stroke-width="1.05" d="M619.3,1489.9Q620.8,1486.1 625.5,1485.0L651.8,1489.6L648.7,1494.6Q641.0,1497.7 619.3,1493.0"/>
<path fill="none" stroke="#1d1d1b" stroke-width="1.05" d="M622.4,1491.5L644.1,1494.9"/>
<path fill="none" stroke="#1d1d1b" stroke-width="1.05" d="M675.1,1501.6Q676.6,1496.9 682.8,1495.4L710.7,1500.5L706.9,1506.2Q699.9,1508.5 676.6,1504.7"/>
<path fill="none" stroke="#1d1d1b" stroke-width="1.05" d="M678.2,1502.7L703.0,1506.7"/>
<path fill="none" stroke="#1d1d1b" stroke-width="1.05" d="M650.3,1513.2L706.1,1524.0L721.6,1508.5"/>
<path fill="none" stroke="#1d1d1b" stroke-width="1.05" d="M650.9,1403.3L650.9,1450.0"/>
<path fill="none" stroke="#1d1d1b" stroke-width="1.05" d="M536.4,1380.0L536.4,1433.0"/>
<path fill="none" stroke="#1d1d1b" stroke-width="1.05" d="M530.0,1434.1L557.6,1438.3M621.2,1447.9L676.3,1458.0M733.6,1468.7L763.3,1473.3"/>
<path fill="none" stroke="#1d1d1b" stroke-width="1.05" d="M530.0,1436.8L556.5,1441.1M622.3,1450.6L674.2,1460.6M734.0,1471.2L762.2,1475.9"/>
<path fill="none" stroke="#1d1d1b" stroke-width="1.05" d="M561.8,1419.2L588.3,1423.5L584.1,1443.6L558.6,1438.3ZM588.3,1423.5L586.8,1433.0L584.1,1443.6"/>
<path fill="none" stroke="#1d1d1b" stroke-width="1.05" d="M596.8,1424.1L620.1,1428.4L615.9,1447.9L593.6,1443.6Z"/>
<path fill="none" stroke="#1d1d1b" stroke-width="1.05" d="M676.3,1440.4L701.8,1444.7L697.6,1463.8L672.1,1458.9ZM701.8,1444.7L703.5,1453.2L697.6,1463.8"/>
<path fill="none" stroke="#1d1d1b" stroke-width="1.05" d="M710.3,1443.6L733.6,1447.9L729.4,1467.0L706.0,1462.3Z"/>
<path fill="none" stroke="#1d1d1b" stroke-width="1.05" d="M763.3,1399.1L764.4,1460.6L761.2,1469.1L742.1,1490.3"/>
<path fill="none" stroke="#1d1d1b" stroke-width="1.05" d="M735.7,1453.2L763.3,1457.4M736.8,1459.5L762.2,1463.8M750.6,1424.5L764.4,1426.7"/>
<path fill="none" stroke="#1d1d1b" stroke-width="1.05" d="M623.3,1433.0L648.8,1437.3M624.4,1440.4L647.7,1444.1"/>
<path fill="none" stroke="#1d1d1b" stroke-width="1.05" d="M530.0,1425.6L555.5,1429.8M530.0,1420.3L538.5,1421.8"/>
<path fill="none" stroke="#1d1d1b" stroke-width="1.05" d="M534.2,1493.5L585.1,1503.0M644.5,1513.6L706.0,1524.2"/>
<path fill="none" stroke="#b4b4b4" stroke-width="0.8" d="M765.4,1440.4L790.0,1444.7M765.4,1445.7L790.0,1450.0"/>
<path fill="#cacaca" stroke="#1d1d1b" stroke-width="1" d="M439.3,1524.0L765.0,1580.6L765.0,1640.0L439.3,1640.0Z"/>
<path d="M437.4,1526.2 V1519.9 A5.8,7.0 0 0 1 448.9,1519.9 V1528.2" fill="#ececec" stroke="#1d1d1b" stroke-width="1"/><path d="M439.1,1526.2 V1519.9" fill="none" stroke="#9a9a9a" stroke-width="1.6"/>
<path d="M466.4,1531.2 V1525.0 A5.8,7.0 0 0 1 477.9,1525.0 V1533.2" fill="#ececec" stroke="#1d1d1b" stroke-width="1"/><path d="M468.1,1531.2 V1525.0" fill="none" stroke="#9a9a9a" stroke-width="1.6"/>
<path d="M494.8,1536.1 V1529.9 A5.8,7.0 0 0 1 506.2,1529.9 V1538.1" fill="#ececec" stroke="#1d1d1b" stroke-width="1"/><path d="M496.4,1536.1 V1529.9" fill="none" stroke="#9a9a9a" stroke-width="1.6"/>
<path d="M525.2,1541.4 V1535.2 A5.8,7.0 0 0 1 536.8,1535.2 V1543.4" fill="#ececec" stroke="#1d1d1b" stroke-width="1"/><path d="M526.9,1541.4 V1535.2" fill="none" stroke="#9a9a9a" stroke-width="1.6"/>
<path d="M553.2,1546.3 V1540.1 A5.8,7.0 0 0 1 564.8,1540.1 V1548.3" fill="#ececec" stroke="#1d1d1b" stroke-width="1"/><path d="M554.9,1546.3 V1540.1" fill="none" stroke="#9a9a9a" stroke-width="1.6"/>
<path d="M583.9,1551.6 V1545.4 A5.8,7.0 0 0 1 595.4,1545.4 V1553.6" fill="#ececec" stroke="#1d1d1b" stroke-width="1"/><path d="M585.5,1551.6 V1545.4" fill="none" stroke="#9a9a9a" stroke-width="1.6"/>
<path d="M611.2,1556.4 V1550.1 A5.8,7.0 0 0 1 622.8,1550.1 V1558.4" fill="#ececec" stroke="#1d1d1b" stroke-width="1"/><path d="M612.9,1556.4 V1550.1" fill="none" stroke="#9a9a9a" stroke-width="1.6"/>
<path d="M642.2,1561.8 V1555.5 A5.8,7.0 0 0 1 653.8,1555.5 V1563.8" fill="#ececec" stroke="#1d1d1b" stroke-width="1"/><path d="M643.9,1561.8 V1555.5" fill="none" stroke="#9a9a9a" stroke-width="1.6"/>
<path d="M670.1,1566.6 V1560.4 A5.8,7.0 0 0 1 681.6,1560.4 V1568.6" fill="#ececec" stroke="#1d1d1b" stroke-width="1"/><path d="M671.8,1566.6 V1560.4" fill="none" stroke="#9a9a9a" stroke-width="1.6"/>
<path d="M700.6,1571.9 V1565.7 A5.8,7.0 0 0 1 712.1,1565.7 V1573.9" fill="#ececec" stroke="#1d1d1b" stroke-width="1"/><path d="M702.2,1571.9 V1565.7" fill="none" stroke="#9a9a9a" stroke-width="1.6"/>
<path d="M729.0,1576.9 V1570.6 A5.8,7.0 0 0 1 740.5,1570.6 V1578.9" fill="#ececec" stroke="#1d1d1b" stroke-width="1"/><path d="M730.6,1576.9 V1570.6" fill="none" stroke="#9a9a9a" stroke-width="1.6"/>
<path fill="#cacaca" stroke="none" d="M439.3,1525.2L764.5,1581.8L764.5,1592.0L439.3,1536.0Z"/>
<path fill="none" stroke="#1d1d1b" stroke-width="1.05" d="M439.3,1524.0L765.0,1580.6"/>
<path fill="none" stroke="#1d1d1b" stroke-width="1.05" d="M439.3,1582.2L620.0,1614.0L712.0,1630.2M439.3,1600.8L606.0,1630.2M439.3,1607.0L570.0,1630.2"/>
<path fill="none" stroke="#2a2a2a" stroke-width="0.9" stroke-dasharray="5 3" d="M525.2,1537.9 V1558.9 h-18 M536.8,1539.9 V1547.9 q2,12 12,12 q10,0 12,-10"/>
<path fill="none" stroke="#2a2a2a" stroke-width="0.9" stroke-dasharray="5 3" d="M564.8,1544.8 V1566.8"/>
<path fill="none" stroke="#2a2a2a" stroke-width="0.9" stroke-dasharray="5 3" d="M583.8,1548.1 V1569.1 h-18 M595.4,1550.1 V1558.1 q2,12 12,12 q10,0 12,-10"/>
<path fill="none" stroke="#2a2a2a" stroke-width="0.9" stroke-dasharray="5 3" d="M622.8,1554.9 V1576.9"/>
<path fill="none" stroke="#2a2a2a" stroke-width="0.9" stroke-dasharray="5 3" d="M642.2,1558.3 V1579.3 h-18 M653.8,1560.3 V1568.3 q2,12 12,12 q10,0 12,-10"/>
<path fill="none" stroke="#2a2a2a" stroke-width="0.9" stroke-dasharray="5 3" d="M681.7,1565.1 V1587.1"/>
<path fill="none" stroke="#2a2a2a" stroke-width="0.9" stroke-dasharray="5 3" d="M700.6,1568.4 V1589.4 h-18 M712.2,1570.4 V1578.4 q2,12 12,12 q10,0 12,-10"/>
<path fill="none" stroke="#2a2a2a" stroke-width="0.9" stroke-dasharray="5 3" d="M740.6,1575.4 V1597.4"/>
<path fill="none" stroke="#2a2a2a" stroke-width="0.9" stroke-dasharray="5 3" d="M531.5,1475 V1530"/>
<path fill="none" stroke="#2a2a2a" stroke-width="0.9" stroke-dasharray="5 3" d="M559.5,1482 V1535"/>
<path fill="none" stroke="#2a2a2a" stroke-width="0.9" stroke-dasharray="5 3" d="M590,1490 V1540"/>
<path fill="none" stroke="#2a2a2a" stroke-width="0.9" stroke-dasharray="5 3" d="M617,1490 V1545"/>
<path fill="none" stroke="#2a2a2a" stroke-width="0.9" stroke-dasharray="5 3" d="M648.5,1492 V1550"/>
<path fill="none" stroke="#2a2a2a" stroke-width="0.9" stroke-dasharray="5 3" d="M676,1505 V1555"/>
<path fill="none" stroke="#2a2a2a" stroke-width="0.9" stroke-dasharray="5 3" d="M706.5,1512 V1560"/>
<path fill="none" stroke="#2a2a2a" stroke-width="0.9" stroke-dasharray="5 3" d="M734.5,1510 V1565"/>
<path fill="#1d1d1b" d="M544.7,1444.5 L560.5,1461.7 L553.2,1460.4 L553.2,1476.9 L536.2,1474.1 L536.2,1457.6 L529.0,1456.3 Z"/>
<path fill="#1d1d1b" d="M603.6,1453.5 L619.4,1470.7 L612.1,1469.4 L612.1,1485.9 L595.1,1483.1 L595.1,1466.6 L587.9,1465.3 Z"/>
<path fill="#1d1d1b" d="M661.9,1464.4 L677.6,1481.6 L670.4,1480.3 L670.4,1496.8 L653.4,1494.0 L653.4,1477.5 L646.1,1476.2 Z"/>
<path fill="#1d1d1b" d="M720.3,1474.4 L736.0,1491.6 L728.8,1490.3 L728.8,1506.8 L711.8,1504.0 L711.8,1487.5 L704.5,1486.2 Z"/>
<path fill="#fff" stroke="#1d1d1b" stroke-width="1.05" d="M587.4,1392.3C587.4,1398.6 582.3,1403.7 576.0,1403.7C569.7,1403.7 564.6,1398.6 564.6,1392.3C564.6,1386.0 569.7,1380.9 576.0,1380.9C582.3,1380.9 587.4,1386.0 587.4,1392.3Z"/>
<path fill="none" stroke="#1d1d1b" stroke-width="1.05" d="M579.1,1400.5L579.1,1403.7M582.3,1398.8L582.3,1402.9M585.6,1396.4L585.6,1401.3"/>
<path fill="#dddddd" stroke="#1d1d1b" stroke-width="0.9" d="M628.0,1327.1L566.8,1390.7Q563.6,1395.6 568.5,1400.5Q572.5,1403.7 576.6,1401.3L634.5,1342.6Z"/>
<path fill="none" stroke="#1d1d1b" stroke-width="1.05" d="M625.6,1333.2L568.5,1392.3"/>
<path fill="#1d1d1b" stroke="none" d="M582.7,1339.9L594.6,1344.3L590.5,1351.5Q592.9,1367.8 617.4,1376.0L617.8,1375.2L625.2,1368.7Q624.7,1376.0 619.0,1380.5Q611.7,1388.2 603.5,1387.4Q587.2,1384.2 579.9,1359.7L573.8,1364.6Z"/>
<path fill="#e2e2e2" stroke="#1d1d1b" stroke-width="1" d="M656.5,1264.3L648.7,1281.3Q645.6,1292.2 637.9,1295.3L617.7,1303.0Q611.5,1306.1 613.9,1312.3L631.7,1346.4Q634.8,1351.1 641.0,1349.5L672.0,1338.7Q678.2,1335.6 678.2,1329.4L677.4,1320.1Q679.7,1313.9 687.5,1307.7L718.5,1286.0L741.7,1264.3Z"/>
<path fill="none" stroke="#1d1d1b" stroke-width="1.05" d="M716.9,1264.3L654.9,1320.1M618.5,1307.7L633.2,1341.8Q635.6,1346.4 641.0,1344.9L670.4,1334.8"/>
<path d="M676.9,1386.4 L561.7,1408.4 L683.1,1397.9" fill="#fff" stroke="#1d1d1b" stroke-width="0.9"/><path d="M684.1,1403.0 L669.7,1423.1 L693.7,1410.3" fill="#fff" stroke="#1d1d1b" stroke-width="0.9"/><circle cx="720.8" cy="1371.2" r="46.5" fill="#fff" stroke="#1d1d1b" stroke-width="0.9"/><path d="M676.9,1386.4 L561.7,1408.4 L683.1,1397.9 Z" fill="#fff" stroke="none"/><path d="M676.9,1386.4 L561.7,1408.4 L683.1,1397.9" fill="none" stroke="#1d1d1b" stroke-width="0.9"/><path d="M684.1,1403.0 L669.7,1423.1 L693.7,1410.3 Z" fill="#fff" stroke="none"/><path d="M684.1,1403.0 L669.7,1423.1 L693.7,1410.3" fill="none" stroke="#1d1d1b" stroke-width="0.9"/><g transform="translate(720.8,1371.2)"><path fill="#1d1d1b" d="M-34.5,18.5 Q-36,16 -33,13.5 L-14,1 Q-10,-1.5 -9,-5.5 L-8,-8.5 L-5,-10.5 L-1.5,-6.5 L22,-30.5 Q24.5,-32.5 25.5,-31 Q26.5,-29.5 24.5,-27 L2,-2.5 L5.5,1.5 L3,4.5 L-0.5,5.5 Q-4.5,6.5 -7.5,10 L-25,27.5 Q-28,29.5 -30,26.5 Z"/><circle cx="23.8" cy="1.6" r="9.2" fill="#fff" stroke="#1d1d1b" stroke-width="0.8"/><path fill="#1d1d1b" d="M21.6,-5 h4.4 v4.4 h4.4 v4.4 h-4.4 v4.4 h-4.4 v-4.4 h-4.4 v-4.4 h4.4 Z"/><path stroke="#1d1d1b" stroke-width="0.7" d="M18.6,-3.6 l10.4,10.4 M29,-3.6 l-10.4,10.4"/><text x="-2" y="27.3" font-family="Liberation Sans, sans-serif" font-size="15" fill="#1d1d1b" textLength="32.3">PZ 2</text></g>
<rect x="692.1" y="1421.6" width="58.3" height="24.3" fill="#fff" stroke="#1d1d1b" stroke-width="0.9"/><text x="695.4" y="1439.7" font-family="Liberation Sans, sans-serif" font-size="15.5" fill="#1d1d1b" textLength="51">2,1 Nm</text>
<text x="637.1" y="1428.6" font-family="Liberation Sans, sans-serif" font-size="15" fill="#1d1d1b">N</text><text x="752" y="1450" font-family="Liberation Sans, sans-serif" font-size="15" fill="#1d1d1b">N</text>
<circle cx="451.4" cy="1275.9" r="10" fill="#fff" stroke="#1d1d1b" stroke-width="0.9"/><text x="451.4" y="1281.8" text-anchor="middle" font-family="Liberation Sans, sans-serif" font-size="16.5" fill="#1d1d1b">1</text>
<circle cx="580.6" cy="1321.6" r="10" fill="#fff" stroke="#1d1d1b" stroke-width="0.9"/><text x="580.6" y="1327.5" text-anchor="middle" font-family="Liberation Sans, sans-serif" font-size="16.5" fill="#1d1d1b">B</text>
<circle cx="752.9" cy="1505.4" r="10" fill="#fff" stroke="#1d1d1b" stroke-width="0.9"/><text x="752.9" y="1511.3" text-anchor="middle" font-family="Liberation Sans, sans-serif" font-size="16.5" fill="#1d1d1b">A</text>
</g>
<!-- 54_pic4.svg -->
<clipPath id="cp_pic4"><rect x="807" y="1264.3" width="358.9000000000001" height="366.5"/></clipPath>
<g id="pic4" clip-path="url(#cp_pic4)" stroke-linejoin="round" stroke-linecap="round">
<path fill="none" stroke="#b4b4b4" stroke-width="0.8" d="M807.0,1275.1L815.5,1276.7M832.5,1280.6L885.2,1289.9Q891.4,1278.2 893.0,1264.3"/>
<path fill="none" stroke="#b4b4b4" stroke-width="0.8" d="M807.0,1286.0L896.1,1301.5M807.0,1296.1L835.6,1301.5M844.9,1303.0L893.0,1311.6"/>
<path fill="none" stroke="#b4b4b4" stroke-width="0.8" d="M835.6,1298.4L834.1,1312.3L840.3,1313.9L844.9,1299.9M839.5,1301.5L838.7,1312.3"/>
<path fill="none" stroke="#b4b4b4" stroke-width="0.8" d="M837.2,1313.9L829.4,1338.7L831.0,1341.8L835.6,1355.7L841.8,1363.5"/>
<path fill="none" stroke="#b4b4b4" stroke-width="0.8" d="M807.0,1338.7L829.4,1341.8L886.0,1351.9"/>
<path fill="none" stroke="#b4b4b4" stroke-width="0.8" d="M893.0,1311.6L885.2,1348.0"/>
<path fill="none" stroke="#b4b4b4" stroke-width="0.8" d="M807.0,1352.6Q817.0,1354.2 823.2,1360.4M855.8,1366.6Q865.1,1361.9 877.5,1369.7"/>
<path fill="none" stroke="#b4b4b4" stroke-width="0.8" d="M815.5,1463.6L820.1,1454.3M809.3,1465.1L815.5,1494.6L843.4,1499.2M832.5,1460.5L860.4,1465.1L851.1,1483.7Q840.3,1488.4 831.0,1482.2Z"/>
<path fill="none" stroke="#b4b4b4" stroke-width="0.8" d="M820.1,1494.6Q823.2,1503.9 809.3,1507.0M843.4,1500.8L862.0,1503.9L865.1,1508.5L846.5,1513.2ZM862.0,1476.0L868.2,1477.5L865.1,1496.1"/>
<path fill="none" stroke="#b4b4b4" stroke-width="0.8" d="M807.0,1472.9L812.4,1474.4M807.0,1496.1L813.9,1497.7"/>
<path fill="none" stroke="#b4b4b4" stroke-width="0.8" d="M1124.5,1496.1L1141.5,1499.2Q1146.2,1503.9 1144.6,1513.2L1141.5,1525.6L1146.2,1531.8L1165.5,1534.9"/>
<path fill="none" stroke="#b4b4b4" stroke-width="0.8" d="M1093.5,1517.8L1165.5,1538.0M1091.9,1525.6L1165.5,1544.2M1096.6,1544.2L1164.8,1556.6Q1166.3,1555.0 1165.5,1551.9"/>
<path fill="none" stroke="#1d1d1b" stroke-width="1.05" d="M911.6,1264.3L945.7,1270.5Q947.2,1282.9 942.6,1292.2L937.9,1297.6"/>
<path fill="none" stroke="#1d1d1b" stroke-width="1.05" d="M888.3,1289.9L944.1,1299.9L953.4,1311.6L950.3,1332.5M888.3,1289.9L899.2,1303.0L951.9,1312.3"/>
<path fill="none" stroke="#1d1d1b" stroke-width="1.05" d="M945.7,1270.5L982.9,1277.5M944.1,1284.4L990.0,1293.0M968.9,1278.2L981.3,1292.2"/>
<path fill="none" stroke="#1d1d1b" stroke-width="1.05" d="M899.2,1303.0L897.6,1315.4L900.7,1317.0L905.4,1310.0M896.1,1312.3L893.0,1323.2L898.4,1325.5L900.7,1317.0"/>
<path fill="none" stroke="#1d1d1b" stroke-width="1.05" d="M945.7,1317.8L950.3,1318.5L948.8,1334.0L944.1,1334.8Z"/>
<path fill="none" stroke="#1d1d1b" stroke-width="1.05" d="M950.3,1301.5L990.0,1308.5M952.7,1304.6L987.5,1310.8L986.0,1313.9L955.0,1308.5Z"/>
<path fill="none" stroke="#1d1d1b" stroke-width="1.05" d="M959.6,1316.2L990.0,1321.6M959.6,1316.2L962.7,1323.2L959.6,1334.0L964.3,1334.8"/>
<path fill="none" stroke="#1d1d1b" stroke-width="1.05" d="M886.0,1351.1L979.8,1368.1M807.0,1360.4L990.0,1393.7M807.0,1379.8L990.0,1412.3M807.0,1389.8L990.0,1423.1M807.0,1400.7L990.0,1433.2"/>
<path fill="none" stroke="#1d1d1b" stroke-width="1.05" d="M886.0,1351.9L893.0,1355.7L894.5,1366.6L890.7,1365.8"/>
<path fill="none" stroke="#1d1d1b" stroke-width="1.05" d="M914.7,1357.3L922.4,1361.9L924.0,1372.8L919.3,1372.0Z"/>
<path fill="none" stroke="#1d1d1b" stroke-width="1.05" d="M964.3,1366.6L972.0,1371.2L973.6,1382.1L968.9,1381.3Z"/>
<path fill="#fff" stroke="#1d1d1b" stroke-width="1.05" d="M934.6,1379.6C934.3,1381.7 928.5,1382.4 921.8,1381.2C915.0,1380.1 909.8,1377.4 910.2,1375.3C910.6,1373.2 916.4,1372.4 923.1,1373.6C929.9,1374.8 935.0,1377.5 934.6,1379.6Z"/>
<path fill="#fff" stroke="#1d1d1b" stroke-width="1.05" d="M982.7,1386.5C982.5,1388.2 978.8,1389.0 974.6,1388.2C970.4,1387.5 967.2,1385.5 967.5,1383.8C967.8,1382.1 971.5,1381.4 975.7,1382.1C979.9,1382.9 983.1,1384.8 982.7,1386.5Z"/>
<path fill="none" stroke="#1d1d1b" stroke-width="1.05" d="M1040.8,1286.0L1056.3,1289.1"/>
<path fill="none" stroke="#1d1d1b" stroke-width="1.05" d="M1011.3,1312.3L1034.6,1316.2M1008.2,1321.6L1033.0,1325.5M1025.3,1334.0L1031.5,1335.3"/>
<path fill="none" stroke="#1d1d1b" stroke-width="1.05" d="M1112.1,1368.9L1105.9,1391.4L1109.0,1403.8L1127.6,1425.5L1138.4,1439.4L1137.7,1445.0"/>
<path fill="none" stroke="#1d1d1b" stroke-width="1.05" d="M1088.8,1388.3L1104.3,1390.6"/>
<path fill="none" stroke="#1d1d1b" stroke-width="1.05" d="M1071.8,1385.2L1078.0,1386.7L1081.1,1400.7L1076.4,1399.9Z"/>
<path fill="none" stroke="#1d1d1b" stroke-width="1.05" d="M985.0,1411.5L1130.7,1436.3M985.0,1420.8L1124.5,1445.0M985.0,1430.1L1062.5,1445.0M1070.2,1406.9L1116.7,1414.6"/>
<path fill="none" stroke="#1d1d1b" stroke-width="1.05" d="M998.9,1380.5L1008.2,1395.3L985.0,1391.4M1008.2,1374.3L1043.9,1380.5"/>
<path fill="none" stroke="#1d1d1b" stroke-width="1.05" d="M988.1,1295.3L994.3,1306.1L988.1,1317.0M992.7,1306.1L986.5,1329.4"/>
<path fill="none" stroke="#1d1d1b" stroke-width="1.05" d="M1009.8,1327.8Q1016.0,1329.4 1014.4,1335.6M1006.7,1338.7L1012.9,1339.5"/>
<path fill="#fff" stroke="#1d1d1b" stroke-width="1.05" d="M1099.5,1408.1C1099.1,1410.2 1093.7,1411.0 1087.4,1409.9C1081.1,1408.8 1076.2,1406.2 1076.6,1404.1C1077.0,1402.0 1082.4,1401.2 1088.7,1402.3C1095.0,1403.4 1099.9,1406.0 1099.5,1408.1Z"/>
<path fill="none" stroke="#1d1d1b" stroke-width="1.05" d="M807.0,1448.1L990.0,1480.6"/>
<path fill="none" stroke="#1d1d1b" stroke-width="1.05" d="M886.0,1485.3L889.9,1469.0L918.6,1473.7L913.1,1491.5Q908.5,1496.9 900.7,1495.4L891.4,1493.0Q885.2,1491.5 886.0,1485.3Z"/>
<path fill="none" stroke="#1d1d1b" stroke-width="1.05" d="M889.9,1484.5L893.0,1472.9L913.9,1476.8L910.0,1489.9Q906.9,1493.0 902.3,1492.3L893.0,1490.7Z"/>
<path fill="none" stroke="#1d1d1b" stroke-width="1.05" d="M940.3,1494.6L944.9,1478.3L972.8,1483.0L968.1,1499.2Q964.3,1504.7 956.5,1503.1L945.7,1501.6Q939.5,1500.0 940.3,1494.6Z"/>
<path fill="none" stroke="#1d1d1b" stroke-width="1.05" d="M877.5,1462.0L868.2,1503.9M990.0,1480.6L984.4,1507.0"/>
<path fill="none" stroke="#1d1d1b" stroke-width="1.05" d="M875.9,1481.4L880.6,1482.2L872.8,1507.0L868.2,1506.2Z"/>
<path fill="none" stroke="#1d1d1b" stroke-width="1.05" d="M841.8,1508.5L858.9,1530.2L862.0,1530.2M919.3,1522.5L968.9,1531.0M951.9,1528.7L968.9,1548.8"/>
<path fill="none" stroke="#1d1d1b" stroke-width="1.05" d="M972.0,1538.0L968.9,1548.8L990.0,1550.4"/>
<path fill="#b5b5b5" stroke="#1d1d1b" stroke-width="0.7" d="M944.9,1480.6L968.1,1484.5L965.8,1493.0L955.0,1491.5L945.7,1496.1Z"/>
<path fill="#fff" stroke="#1d1d1b" stroke-width="1.05" d="M865.1,1507.0L860.4,1528.7L908.5,1539.5L914.7,1536.4L919.3,1516.3L869.7,1507.0Z"/>
<path fill="none" stroke="#1d1d1b" stroke-width="1.05" d="M866.6,1517.8L911.6,1526.4L908.5,1536.4L863.5,1527.1ZM875.9,1514.7L886.8,1516.3L885.2,1522.5L874.4,1520.9ZM903.8,1520.9L914.7,1522.5L913.1,1527.1L902.3,1525.6ZM886.8,1507.0L902.3,1508.5M863.5,1510.1L862.0,1525.6"/>
<path fill="#fff" stroke="#1d1d1b" stroke-width="1.05" d="M877.5,1499.2L888.3,1500.0L886.8,1510.1L877.5,1508.5Z"/>
<path fill="none" stroke="#1d1d1b" stroke-width="1.05" d="M985.0,1479.9L1121.4,1503.9L1134.6,1459.7Q1135.3,1454.3 1130.7,1451.2L1124.5,1445.0"/>
<path fill="none" stroke="#1d1d1b" stroke-width="1.05" d="M1060.9,1445.0L1130.7,1456.6"/>
<path fill="none" stroke="#1d1d1b" stroke-width="1.05" d="M1098.1,1500.8L1090.4,1525.6M985.0,1536.4L1079.5,1551.9"/>
<path fill="none" stroke="#1d1d1b" stroke-width="1.05" d="M995.8,1507.0L1000.5,1489.9L1028.4,1494.6L1023.7,1510.1Q1020.6,1516.3 1012.9,1514.7L1002.0,1513.2Q995.1,1511.6 995.8,1507.0Z"/>
<path fill="none" stroke="#1d1d1b" stroke-width="1.05" d="M999.7,1507.0L1003.3,1493.0L1024.5,1496.9L1020.6,1509.3Q1018.3,1513.2 1013.7,1511.9L1003.6,1510.4Z"/>
<path fill="none" stroke="#1d1d1b" stroke-width="1.05" d="M1050.9,1515.5L1055.5,1498.5L1083.4,1503.1L1078.8,1519.4M1050.9,1515.5Q1050.1,1520.9 1056.3,1522.5"/>
<path fill="none" stroke="#1d1d1b" stroke-width="1.05" d="M988.1,1519.4L998.9,1520.9L997.4,1531.8L986.5,1530.2ZM989.6,1527.1L1011.3,1531.0L1009.8,1538.0M994.3,1534.9L1028.4,1541.1L1026.8,1553.5L1019.1,1558.9L1008.2,1556.6M1012.9,1541.1L1023.7,1542.6L1022.2,1548.8L1012.9,1547.3Z"/>
<path fill="none" stroke="#1d1d1b" stroke-width="1.05" d="M985.0,1500.8L989.6,1501.6L985.0,1519.4"/>
<path fill="#b5b5b5" stroke="#1d1d1b" stroke-width="0.7" d="M1055.5,1500.8L1078.0,1504.7L1076.4,1513.2L1065.6,1511.6L1056.3,1516.3Z"/>
<path fill="#b5b5b5" stroke="#1d1d1b" stroke-width="0.7" d="M969.7,1529.5Q978.2,1520.9 990.6,1523.3L1001.5,1553.5L979.8,1550.4Z"/>
<path fill="none" stroke="#1d1d1b" stroke-width="1.05" d="M973.6,1527.1L986.0,1550.4M978.2,1524.0L990.0,1545.7M983.6,1522.5L993.7,1541.1"/>
<path fill="#cacaca" stroke="#1d1d1b" stroke-width="1" d="M994.3,1553.5Q1008.2,1551.9 1019.1,1561.2L1060.9,1630.2L1028.4,1630.2L994.3,1576.7Z"/>
<path fill="#b5b5b5" stroke="#1d1d1b" stroke-width="0.7" d="M1079.8,1545.7Q1085.7,1539.5 1096.9,1542.3L1114.4,1569.0L1099.7,1579.1Z"/>
<path fill="none" stroke="#1d1d1b" stroke-width="1.05" d="M1084.2,1543.4L1103.6,1576.7M1088.8,1541.9L1107.4,1573.6M1093.5,1541.4L1111.3,1571.3M1081.9,1547.3L1100.5,1578.3"/>
<path fill="#cacaca" stroke="#1d1d1b" stroke-width="1" d="M1098.9,1582.2Q1102.8,1572.1 1118.3,1571.3Q1121.4,1571.3 1123.2,1573.6L1161.7,1630.2L1128.4,1630.2Z"/>
<path fill="#1d1d1b" stroke="none" d="M944.9,1495.8L955.8,1488.9L976.7,1501.1L971.2,1502.7L984.4,1517.5L962.0,1513.5L961.2,1507.0L952.7,1500.8Z"/>
<path fill="#1d1d1b" stroke="none" d="M1056.3,1515.5L1066.4,1507.8L1087.3,1520.2L1081.9,1521.7L1095.0,1536.4L1073.3,1532.6L1071.8,1526.4L1064.0,1520.2Z"/>
<text x="1027.6" y="1576.7" font-family="Liberation Sans, sans-serif" font-size="23.5" fill="#1d1d1b">N</text><text x="1117.3" y="1568.2" font-family="Liberation Sans, sans-serif" font-size="23.5" fill="#1d1d1b">N</text>
<rect x="807.0" y="1551.2" width="192.0" height="78.20000000000005" fill="#fff" stroke="#444" stroke-width="0.9"/><path d="M874.4,1551.2 V1629.4 M942.3,1551.2 V1629.4 M807.0,1584.5 H999.0" fill="none" stroke="#444" stroke-width="0.9"/><path d="M813.3,1567.4 H835.8 V1579.8000000000002 H813.3 Q811.3,1576.4 812.8,1573.6000000000001 Q814.3,1570.4 813.3,1567.4 Z" fill="#fff" stroke="#1d1d1b" stroke-width="0.8"/><path d="M835.8,1570.4 h23 M835.8,1572.6000000000001 h23 M835.8,1574.8000000000002 h23 M835.8,1577.0 h23" stroke="#777" stroke-width="1.3" stroke-dasharray="2 1" fill="none"/><path d="M882.3,1567.4 H904.8 V1579.8000000000002 H882.3 Q880.3,1576.4 881.8,1573.6000000000001 Q883.3,1570.4 882.3,1567.4 Z" fill="#fff" stroke="#1d1d1b" stroke-width="0.8"/><rect x="904.8" y="1570.2" width="24" height="6.6" fill="#1d1d1b"/><path d="M947.4,1567.4 H969.9 V1579.8000000000002 H947.4 Q945.4,1576.4 946.9,1573.6000000000001 Q948.4,1570.4 947.4,1567.4 Z" fill="#fff" stroke="#1d1d1b" stroke-width="0.8"/><rect x="969.9" y="1571.2" width="23.6" height="5.4" fill="#fff" stroke="#1d1d1b" stroke-width="0.8"/><path d="M972.4,1565.0 h20 M972.4,1565.0 l4,-2 v4 Z M992.4,1565.0 l-4,-2 v4 Z" stroke="#1d1d1b" stroke-width="0.8" fill="#1d1d1b"/><g font-family="Liberation Sans, sans-serif" fill="#1d1d1b" font-size="13.5"><text x="834.9" y="1562.8" font-size="9.5" textLength="24.8">(mm²)</text><text x="903.1" y="1562.8" font-size="9.5" textLength="25.2">(mm²)</text><text x="811.6" y="1601.5">1,5</text><text x="845" y="1601.5" textLength="24.6">mini</text><text x="811.6" y="1623.2">16</text><text x="841.8" y="1623.2" textLength="28.2">maxi</text><text x="879" y="1601.5">1,5</text><text x="912.4" y="1601.5" textLength="24.6">mini</text><text x="878.4" y="1623.2">25</text><text x="908.8" y="1623.2" textLength="28.4">maxi</text><text x="949.6" y="1611.6" textLength="41">12 mm</text></g><rect x="831.6" y="1589.4" width="8.6" height="8.2" fill="#fff" stroke="#666" stroke-width="0.8"/><rect x="827.6" y="1611" width="8.6" height="8.2" fill="#fff" stroke="#666" stroke-width="0.8"/><rect x="899" y="1589.4" width="8.6" height="8.2" fill="#fff" stroke="#666" stroke-width="0.8"/><rect x="894.8" y="1611" width="8.6" height="8.2" fill="#fff" stroke="#666" stroke-width="0.8"/>
<path fill="#dddddd" stroke="#1d1d1b" stroke-width="0.9" d="M996.6,1299.2L973.8,1386.7Q975.7,1389.8 980.4,1389.1L985.0,1386.7L1013.7,1299.9Z"/>
<path fill="none" stroke="#1d1d1b" stroke-width="1.05" d="M1000.5,1299.9L978.0,1387.5M1009.8,1299.9L982.7,1386.7"/>
<path fill="#1d1d1b" stroke="none" d="M964.3,1320.9L978.2,1320.1L975.5,1328.0Q980.0,1340.0 1000.0,1346.0Q1010.0,1348.0 1016.0,1346.0L1018.0,1340.0L1021.4,1329.4Q1024.0,1345.0 1019.0,1352.0Q1010.0,1362.0 995.0,1360.0Q975.0,1355.0 970.5,1343.0L968.2,1350.3Z"/>
<path fill="#e2e2e2" stroke="#1d1d1b" stroke-width="1" d="M978.8,1264.3L1042.3,1264.3Q1038.5,1286.0 1039.2,1299.9Q1036.1,1303.0 1031.5,1301.5Q1008.2,1296.8 985.0,1282.9L978.0,1276.7Q975.7,1272.0 978.8,1264.3Z"/>
<path fill="none" stroke="#1d1d1b" stroke-width="1.05" d="M985.0,1273.6Q1008.2,1289.1 1037.7,1294.5M1005.1,1264.3L1000.5,1275.1"/>
<path d="M1035.4,1346.9 L975.9,1387.0 L1041.1,1358.4" fill="#fff" stroke="#1d1d1b" stroke-width="0.9"/><path d="M1076.4,1378.5 L1086.5,1404.6 L1088.8,1377.4" fill="#fff" stroke="#1d1d1b" stroke-width="0.9"/><circle cx="1080.3" cy="1332.5" r="46.5" fill="#fff" stroke="#1d1d1b" stroke-width="0.9"/><path d="M1035.4,1346.9 L975.9,1387.0 L1041.1,1358.4 Z" fill="#fff" stroke="none"/><path d="M1035.4,1346.9 L975.9,1387.0 L1041.1,1358.4" fill="none" stroke="#1d1d1b" stroke-width="0.9"/><path d="M1076.4,1378.5 L1086.5,1404.6 L1088.8,1377.4 Z" fill="#fff" stroke="none"/><path d="M1076.4,1378.5 L1086.5,1404.6 L1088.8,1377.4" fill="none" stroke="#1d1d1b" stroke-width="0.9"/><g transform="translate(1080.3,1332.5)"><path fill="#1d1d1b" d="M-34.5,18.5 Q-36,16 -33,13.5 L-14,1 Q-10,-1.5 -9,-5.5 L-8,-8.5 L-5,-10.5 L-1.5,-6.5 L22,-30.5 Q24.5,-32.5 25.5,-31 Q26.5,-29.5 24.5,-27 L2,-2.5 L5.5,1.5 L3,4.5 L-0.5,5.5 Q-4.5,6.5 -7.5,10 L-25,27.5 Q-28,29.5 -30,26.5 Z"/><circle cx="23.8" cy="1.6" r="9.2" fill="#fff" stroke="#1d1d1b" stroke-width="0.8"/><path fill="#1d1d1b" d="M21.6,-5 h4.4 v4.4 h4.4 v4.4 h-4.4 v4.4 h-4.4 v-4.4 h-4.4 v-4.4 h4.4 Z"/><path stroke="#1d1d1b" stroke-width="0.7" d="M18.6,-3.6 l10.4,10.4 M29,-3.6 l-10.4,10.4"/><text x="-2" y="27.3" font-family="Liberation Sans, sans-serif" font-size="15" fill="#1d1d1b" textLength="32.3">PZ 2</text></g>
<rect x="1011.3" y="1382.4" width="58.3" height="24.3" fill="#fff" stroke="#1d1d1b" stroke-width="0.9"/><text x="1014.6" y="1400.5" font-family="Liberation Sans, sans-serif" font-size="15.5" fill="#1d1d1b" textLength="51">2,1 Nm</text>
<circle cx="822.7" cy="1276.4" r="10" fill="#fff" stroke="#1d1d1b" stroke-width="0.9"/><text x="822.7" y="1282.3" text-anchor="middle" font-family="Liberation Sans, sans-serif" font-size="16.5" fill="#1d1d1b">2</text>
<circle cx="951.9" cy="1349.5" r="10" fill="#fff" stroke="#1d1d1b" stroke-width="0.9"/><text x="951.9" y="1355.4" text-anchor="middle" font-family="Liberation Sans, sans-serif" font-size="16.5" fill="#1d1d1b">D</text>
<circle cx="958.9" cy="1455.1" r="10" fill="#fff" stroke="#1d1d1b" stroke-width="0.9"/><text x="958.9" y="1461.0" text-anchor="middle" font-family="Liberation Sans, sans-serif" font-size="16.5" fill="#1d1d1b">C</text>
</g>
</svg>
<div class="t" style="left:276.0px;top:52.75px;font-size:44px;line-height:44px;font-weight:700;color:#fff;letter-spacing:-3.466px;">hager</div>
<div class="t" style="left:431.0px;top:128.02px;font-size:21px;line-height:21px;letter-spacing:0.477px;">Miniature circuit breakers</div>
<div class="t" style="left:431.0px;top:150.92px;font-size:21px;line-height:21px;letter-spacing:0.392px;">residual current devices (RCBO’s)</div>
<div class="t" style="left:431.0px;top:173.82px;font-size:21px;line-height:21px;letter-spacing:0.596px;">6 to 40A</div>
<div class="t" style="left:873.6px;top:140.96px;font-size:16px;line-height:16px;letter-spacing:0.060px;">This device is to be installed only</div>
<div class="t" style="left:873.6px;top:157.76px;font-size:16px;line-height:16px;letter-spacing:0.069px;">by a professional electrician fi tter</div>
<div class="t" style="left:873.6px;top:174.76px;font-size:16px;line-height:16px;letter-spacing:0.118px;">according to local applicable installation</div>
<div class="t" style="left:873.6px;top:191.76px;font-size:16px;line-height:16px;letter-spacing:0.028px;">standards.</div>
<div class="t" style="left:875.6px;top:249.66px;font-size:19.3px;line-height:19.3px;font-weight:700;letter-spacing:-0.012px;">Protection against dust</div>
<div class="t" style="left:873.6px;top:282.66px;font-size:16px;line-height:16px;letter-spacing:0.062px;">In case of work activities nearby, make</div>
<div class="t" style="left:873.6px;top:299.76px;font-size:16px;line-height:16px;letter-spacing:0.048px;">sure that the electrical installation is</div>
<div class="t" style="left:873.6px;top:316.76px;font-size:16px;line-height:16px;letter-spacing:0.118px;">protected against dust if the enclosure</div>
<div class="t" style="left:873.6px;top:333.06px;font-size:16px;line-height:16px;letter-spacing:-0.013px;">is not IP5x.</div>
<div class="t" style="left:62.7px;top:461.72px;font-size:19px;line-height:19px;font-weight:700;letter-spacing:0.065px;">Electrical connection</div>
<div class="t" style="left:434.0px;top:461.72px;font-size:19px;line-height:19px;font-weight:700;letter-spacing:0.152px;">Earth leakage fault indication</div>
<div class="t" style="left:813.8px;top:461.72px;font-size:19px;line-height:19px;font-weight:700;letter-spacing:0.147px;">Positive contact indication</div>
<div class="t" style="left:63.5px;top:674.30px;font-size:15px;line-height:15px;font-weight:700;letter-spacing:0.191px;">Please note the following:</div>
<div class="t" style="left:63.5px;top:696.30px;font-size:15px;line-height:15px;font-weight:700;">1-</div>
<div class="t" style="left:82.4px;top:696.30px;font-size:15px;line-height:15px;letter-spacing:0.476px;">If RCBO trips OFF after installation,</div>
<div class="t" style="left:82.4px;top:712.10px;font-size:15px;line-height:15px;letter-spacing:0.476px;">2 possibilities:</div>
<div class="t" style="left:82.4px;top:728.10px;font-size:15px;line-height:15px;letter-spacing:0.219px;">- overloads/short-circuits <span class="ar">&#10145;</span> MCB trips,</div>
<div class="t" style="left:82.4px;top:744.10px;font-size:15px;line-height:15px;letter-spacing:0.438px;">- fault to earth <span class="ar">&#10145;</span> RCD trips.</div>
<div class="t" style="left:63.5px;top:760.00px;font-size:15px;line-height:15px;font-weight:700;">2-</div>
<div class="t" style="left:82.4px;top:760.00px;font-size:15px;line-height:15px;letter-spacing:0.401px;">The “main neutral” and “main earth” should</div>
<div class="t" style="left:82.4px;top:775.90px;font-size:15px;line-height:15px;letter-spacing:0.423px;">be checked to ensure good connection.</div>
<div class="t" style="left:63.5px;top:791.90px;font-size:15px;line-height:15px;font-weight:700;">3-</div>
<div class="t" style="left:82.4px;top:791.90px;font-size:15px;line-height:15px;letter-spacing:0.210px;">If test button test fails, check for a presence of</div>
<div class="t" style="left:82.4px;top:807.90px;font-size:15px;line-height:15px;letter-spacing:0.109px;">voltage on line side terminals.</div>
<div class="t" style="left:434.7px;top:777.86px;font-size:16px;line-height:16px;letter-spacing:0.155px;">Test the Safety Switch periodically (approxima-</div>
<div class="t" style="left:434.7px;top:794.86px;font-size:16px;line-height:16px;letter-spacing:0.135px;">tely every three months) by pressing Test button</div>
<div class="t" style="left:434.7px;top:811.66px;font-size:16px;line-height:16px;letter-spacing:0.212px;">marked “T”.</div>
<div class="t" style="left:814.5px;top:778.18px;font-size:15.5px;line-height:15.5px;letter-spacing:-0.007px;">If the RCBO trips OFF, the yellow window</div>
<div class="t" style="left:814.5px;top:795.38px;font-size:15.5px;line-height:15.5px;letter-spacing:-0.111px;">indicates an earth fault.</div>
<div class="t" style="left:50.8px;top:853.72px;font-size:19px;line-height:19px;font-weight:700;letter-spacing:0.129px;">Single phase connection</div>
<div class="t" style="left:51.7px;top:1253.42px;font-size:19px;line-height:19px;font-weight:700;letter-spacing:0.202px;">Three phase connection</div>
<div class="t" style="left:51.7px;top:1130.10px;font-size:15px;line-height:15px;font-weight:700;letter-spacing:0.377px;">KDN180A</div>
<div class="t" style="left:51.7px;top:1147.10px;font-size:15px;line-height:15px;font-weight:700;letter-spacing:0.471px;">KDN180G</div>
<div class="t" style="left:137.5px;top:1176.50px;font-size:15px;line-height:15px;font-weight:700;letter-spacing:0.018px;">KB181A1</div>
<div class="t" style="left:137.5px;top:1193.30px;font-size:15px;line-height:15px;font-weight:700;letter-spacing:0.114px;">KB181G1</div>
<div class="t" style="left:52.9px;top:1486.70px;font-size:15px;line-height:15px;font-weight:700;letter-spacing:0.377px;">KDN380A</div>
<div class="t" style="left:52.9px;top:1506.50px;font-size:15px;line-height:15px;font-weight:700;letter-spacing:0.471px;">KDN380G</div>
<div class="t" style="left:66.0px;top:1659.57px;font-size:13.5px;line-height:13.5px;color:#fff;">1</div>
<div class="t" style="left:1113.2px;top:1659.15px;font-size:14px;line-height:14px;color:#fff;letter-spacing:0.006px;">6A5025.b</div>
<div class="t" style="left:32.2px;top:343.15px;font-size:14px;line-height:14px;letter-spacing:0.131px;transform-origin:0 100%;transform:rotate(-90deg) translate(0,100%);">6A5025.b</div>
</div>
</body>
</html>
